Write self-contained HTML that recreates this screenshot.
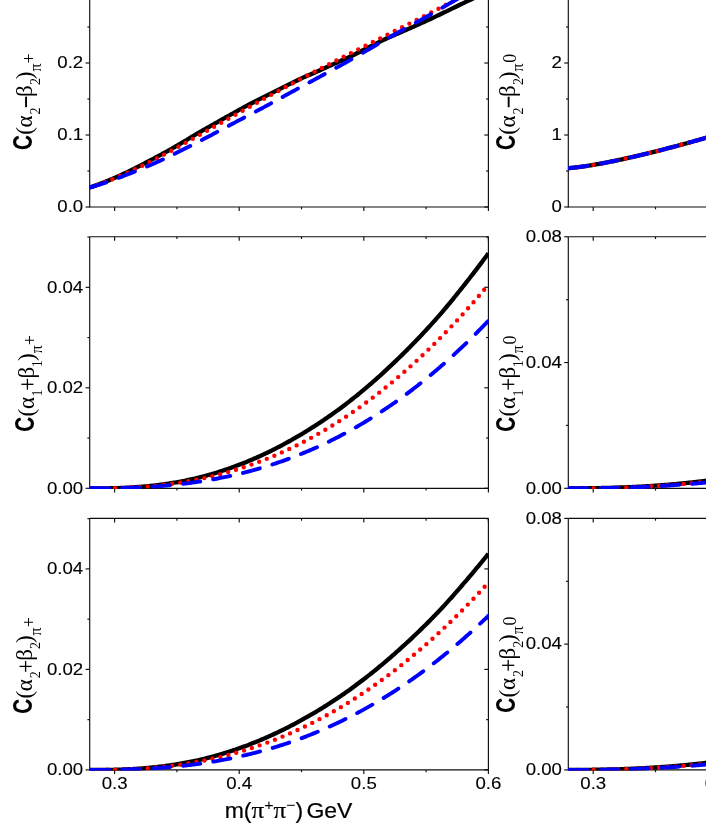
<!DOCTYPE html>
<html><head><meta charset="utf-8"><title>chart</title>
<style>html,body{margin:0;padding:0;background:#fff;}svg{display:block;will-change:transform;}</style></head>
<body><svg width="706" height="824" viewBox="0 0 706 824">
<rect width="706" height="824" fill="#fff"/>
<line x1="89.70" y1="-5.00" x2="89.70" y2="207.50" stroke="#0d0d0d" stroke-width="1.15"/>
<line x1="89.70" y1="207.00" x2="488.40" y2="207.00" stroke="#0d0d0d" stroke-width="1.15"/>
<line x1="488.40" y1="-5.00" x2="488.40" y2="207.50" stroke="#0d0d0d" stroke-width="1.15"/>
<line x1="114.62" y1="207.00" x2="114.62" y2="211.10" stroke="#0d0d0d" stroke-width="1.15"/>
<line x1="176.92" y1="207.00" x2="176.92" y2="209.30" stroke="#0d0d0d" stroke-width="1.15"/>
<line x1="239.21" y1="207.00" x2="239.21" y2="211.10" stroke="#0d0d0d" stroke-width="1.15"/>
<line x1="301.51" y1="207.00" x2="301.51" y2="209.30" stroke="#0d0d0d" stroke-width="1.15"/>
<line x1="363.81" y1="207.00" x2="363.81" y2="211.10" stroke="#0d0d0d" stroke-width="1.15"/>
<line x1="426.10" y1="207.00" x2="426.10" y2="209.30" stroke="#0d0d0d" stroke-width="1.15"/>
<line x1="488.40" y1="207.00" x2="488.40" y2="211.10" stroke="#0d0d0d" stroke-width="1.15"/>
<line x1="85.60" y1="207.00" x2="89.70" y2="207.00" stroke="#0d0d0d" stroke-width="1.15"/>
<line x1="484.30" y1="207.00" x2="488.40" y2="207.00" stroke="#0d0d0d" stroke-width="1.15"/>
<line x1="85.60" y1="135.00" x2="89.70" y2="135.00" stroke="#0d0d0d" stroke-width="1.15"/>
<line x1="484.30" y1="135.00" x2="488.40" y2="135.00" stroke="#0d0d0d" stroke-width="1.15"/>
<line x1="85.60" y1="63.00" x2="89.70" y2="63.00" stroke="#0d0d0d" stroke-width="1.15"/>
<line x1="484.30" y1="63.00" x2="488.40" y2="63.00" stroke="#0d0d0d" stroke-width="1.15"/>
<line x1="85.60" y1="-9.00" x2="89.70" y2="-9.00" stroke="#0d0d0d" stroke-width="1.15"/>
<line x1="484.30" y1="-9.00" x2="488.40" y2="-9.00" stroke="#0d0d0d" stroke-width="1.15"/>
<line x1="87.40" y1="171.00" x2="89.70" y2="171.00" stroke="#0d0d0d" stroke-width="1.15"/>
<line x1="486.10" y1="171.00" x2="488.40" y2="171.00" stroke="#0d0d0d" stroke-width="1.15"/>
<line x1="87.40" y1="99.00" x2="89.70" y2="99.00" stroke="#0d0d0d" stroke-width="1.15"/>
<line x1="486.10" y1="99.00" x2="488.40" y2="99.00" stroke="#0d0d0d" stroke-width="1.15"/>
<line x1="87.40" y1="27.00" x2="89.70" y2="27.00" stroke="#0d0d0d" stroke-width="1.15"/>
<line x1="486.10" y1="27.00" x2="488.40" y2="27.00" stroke="#0d0d0d" stroke-width="1.15"/>
<clipPath id="c1"><rect x="89.4" y="-3" width="399.3" height="210.7"/></clipPath>
<g clip-path="url(#c1)">
<path d="M89.70,187.42 L90.70,187.10 L91.70,186.76 L92.70,186.43 L93.70,186.09 L94.70,185.74 L95.70,185.39 L96.69,185.03 L97.69,184.67 L98.69,184.30 L99.69,183.93 L100.69,183.56 L101.69,183.18 L102.69,182.80 L103.69,182.41 L104.69,182.02 L105.69,181.62 L106.69,181.22 L107.69,180.82 L108.69,180.41 L109.68,180.00 L110.68,179.59 L111.68,179.17 L112.68,178.74 L113.68,178.32 L114.68,177.88 L115.68,177.44 L116.68,177.00 L117.68,176.55 L118.68,176.10 L119.68,175.64 L120.68,175.18 L121.68,174.72 L122.68,174.25 L123.67,173.78 L124.67,173.30 L125.67,172.82 L126.67,172.34 L127.67,171.85 L128.67,171.37 L129.67,170.88 L130.67,170.39 L131.67,169.89 L132.67,169.40 L133.67,168.90 L134.67,168.40 L135.67,167.90 L136.66,167.40 L137.66,166.89 L138.66,166.38 L139.66,165.87 L140.66,165.36 L141.66,164.84 L142.66,164.33 L143.66,163.81 L144.66,163.29 L145.66,162.76 L146.66,162.24 L147.66,161.72 L148.66,161.19 L149.65,160.67 L150.65,160.14 L151.65,159.62 L152.65,159.09 L153.65,158.56 L154.65,158.03 L155.65,157.50 L156.65,156.97 L157.65,156.44 L158.65,155.91 L159.65,155.37 L160.65,154.83 L161.65,154.29 L162.65,153.75 L163.64,153.21 L164.64,152.67 L165.64,152.12 L166.64,151.57 L167.64,151.02 L168.64,150.46 L169.64,149.90 L170.64,149.34 L171.64,148.77 L172.64,148.21 L173.64,147.63 L174.64,147.06 L175.64,146.48 L176.63,145.90 L177.63,145.31 L178.63,144.73 L179.63,144.14 L180.63,143.55 L181.63,142.96 L182.63,142.37 L183.63,141.78 L184.63,141.19 L185.63,140.59 L186.63,140.00 L187.63,139.39 L188.63,138.78 L189.62,138.17 L190.62,137.56 L191.62,136.95 L192.62,136.33 L193.62,135.72 L194.62,135.12 L195.62,134.51 L196.62,133.92 L197.62,133.33 L198.62,132.74 L199.62,132.17 L200.62,131.61 L201.62,131.04 L202.62,130.48 L203.61,129.91 L204.61,129.35 L205.61,128.78 L206.61,128.22 L207.61,127.65 L208.61,127.09 L209.61,126.52 L210.61,125.96 L211.61,125.39 L212.61,124.83 L213.61,124.27 L214.61,123.70 L215.61,123.14 L216.60,122.57 L217.60,122.01 L218.60,121.44 L219.60,120.88 L220.60,120.31 L221.60,119.75 L222.60,119.18 L223.60,118.62 L224.60,118.06 L225.60,117.49 L226.60,116.93 L227.60,116.37 L228.60,115.81 L229.59,115.25 L230.59,114.69 L231.59,114.13 L232.59,113.57 L233.59,113.01 L234.59,112.45 L235.59,111.90 L236.59,111.34 L237.59,110.78 L238.59,110.23 L239.59,109.67 L240.59,109.12 L241.59,108.57 L242.58,108.01 L243.58,107.46 L244.58,106.91 L245.58,106.36 L246.58,105.82 L247.58,105.29 L248.58,104.77 L249.58,104.25 L250.58,103.74 L251.58,103.24 L252.58,102.73 L253.58,102.23 L254.58,101.72 L255.58,101.22 L256.57,100.71 L257.57,100.20 L258.57,99.69 L259.57,99.17 L260.57,98.66 L261.57,98.15 L262.57,97.64 L263.57,97.13 L264.57,96.62 L265.57,96.11 L266.57,95.60 L267.57,95.10 L268.57,94.59 L269.56,94.08 L270.56,93.58 L271.56,93.07 L272.56,92.57 L273.56,92.06 L274.56,91.56 L275.56,91.06 L276.56,90.56 L277.56,90.06 L278.56,89.56 L279.56,89.06 L280.56,88.56 L281.56,88.07 L282.55,87.57 L283.55,87.08 L284.55,86.59 L285.55,86.10 L286.55,85.60 L287.55,85.11 L288.55,84.62 L289.55,84.13 L290.55,83.64 L291.55,83.15 L292.55,82.66 L293.55,82.17 L294.55,81.68 L295.55,81.20 L296.54,80.71 L297.54,80.23 L298.54,79.76 L299.54,79.28 L300.54,78.81 L301.54,78.34 L302.54,77.87 L303.54,77.41 L304.54,76.95 L305.54,76.49 L306.54,76.06 L307.54,75.63 L308.54,75.21 L309.53,74.80 L310.53,74.39 L311.53,73.98 L312.53,73.57 L313.53,73.15 L314.53,72.72 L315.53,72.28 L316.53,71.83 L317.53,71.39 L318.53,70.94 L319.53,70.49 L320.53,70.04 L321.53,69.58 L322.52,69.13 L323.52,68.67 L324.52,68.21 L325.52,67.76 L326.52,67.30 L327.52,66.84 L328.52,66.38 L329.52,65.92 L330.52,65.46 L331.52,65.00 L332.52,64.55 L333.52,64.09 L334.52,63.63 L335.52,63.18 L336.51,62.73 L337.51,62.28 L338.51,61.83 L339.51,61.39 L340.51,60.95 L341.51,60.51 L342.51,60.07 L343.51,59.63 L344.51,59.18 L345.51,58.74 L346.51,58.29 L347.51,57.84 L348.51,57.38 L349.50,56.92 L350.50,56.45 L351.50,55.97 L352.50,55.49 L353.50,55.00 L354.50,54.50 L355.50,53.99 L356.50,53.49 L357.50,52.98 L358.50,52.48 L359.50,51.97 L360.50,51.47 L361.50,50.97 L362.49,50.46 L363.49,49.96 L364.49,49.45 L365.49,48.95 L366.49,48.44 L367.49,47.94 L368.49,47.44 L369.49,46.93 L370.49,46.43 L371.49,45.93 L372.49,45.42 L373.49,44.92 L374.49,44.42 L375.48,43.91 L376.48,43.41 L377.48,42.91 L378.48,42.40 L379.48,41.90 L380.48,41.40 L381.48,40.90 L382.48,40.40 L383.48,39.92 L384.48,39.44 L385.48,38.97 L386.48,38.51 L387.48,38.05 L388.48,37.60 L389.47,37.15 L390.47,36.71 L391.47,36.27 L392.47,35.84 L393.47,35.41 L394.47,34.98 L395.47,34.55 L396.47,34.12 L397.47,33.70 L398.47,33.27 L399.47,32.84 L400.47,32.41 L401.47,31.98 L402.46,31.54 L403.46,31.11 L404.46,30.66 L405.46,30.22 L406.46,29.77 L407.46,29.33 L408.46,28.88 L409.46,28.44 L410.46,27.99 L411.46,27.55 L412.46,27.10 L413.46,26.66 L414.46,26.21 L415.45,25.77 L416.45,25.32 L417.45,24.88 L418.45,24.43 L419.45,23.99 L420.45,23.54 L421.45,23.09 L422.45,22.64 L423.45,22.19 L424.45,21.73 L425.45,21.28 L426.45,20.82 L427.45,20.37 L428.45,19.91 L429.44,19.45 L430.44,18.98 L431.44,18.52 L432.44,18.05 L433.44,17.58 L434.44,17.11 L435.44,16.64 L436.44,16.16 L437.44,15.68 L438.44,15.21 L439.44,14.73 L440.44,14.24 L441.44,13.76 L442.43,13.28 L443.43,12.79 L444.43,12.31 L445.43,11.82 L446.43,11.34 L447.43,10.85 L448.43,10.36 L449.43,9.87 L450.43,9.39 L451.43,8.90 L452.43,8.41 L453.43,7.92 L454.43,7.44 L455.42,6.95 L456.42,6.46 L457.42,5.98 L458.42,5.49 L459.42,5.01 L460.42,4.53 L461.42,4.05 L462.42,3.56 L463.42,3.08 L464.42,2.60 L465.42,2.12 L466.42,1.64 L467.42,1.16 L468.42,0.68 L469.41,0.20 L470.41,-0.28 L471.41,-0.76 L472.41,-1.24 L473.41,-1.72 L474.41,-2.20 L475.41,-2.68 L476.41,-3.16 L477.41,-3.64 L478.41,-4.11 L479.41,-4.59 L480.41,-5.07 L481.41,-5.55 L482.40,-6.03 L483.40,-6.51 L484.40,-6.99 L485.40,-7.47 L486.40,-7.95 L487.40,-8.43 L488.40,-8.91" fill="none" stroke="#000" stroke-width="4.3" stroke-linecap="butt"/>
<path d="M89.70,187.42 L90.70,187.10 L91.70,186.78 L92.70,186.45 L93.70,186.11 L94.70,185.78 L95.70,185.44 L96.69,185.09 L97.69,184.74 L98.69,184.39 L99.69,184.03 L100.69,183.67 L101.69,183.31 L102.69,182.94 L103.69,182.57 L104.69,182.19 L105.69,181.81 L106.69,181.43 L107.69,181.04 L108.69,180.65 L109.68,180.26 L110.68,179.86 L111.68,179.46 L112.68,179.06 L113.68,178.65 L114.68,178.24 L115.68,177.83 L116.68,177.41 L117.68,176.99 L118.68,176.57 L119.68,176.14 L120.68,175.71 L121.68,175.28 L122.68,174.84 L123.67,174.40 L124.67,173.96 L125.67,173.52 L126.67,173.07 L127.67,172.62 L128.67,172.17 L129.67,171.71 L130.67,171.25 L131.67,170.79 L132.67,170.33 L133.67,169.86 L134.67,169.39 L135.67,168.92 L136.66,168.44 L137.66,167.97 L138.66,167.49 L139.66,167.01 L140.66,166.52 L141.66,166.04 L142.66,165.55 L143.66,165.06 L144.66,164.56 L145.66,164.07 L146.66,163.57 L147.66,163.07 L148.66,162.57 L149.65,162.06 L150.65,161.56 L151.65,161.05 L152.65,160.54 L153.65,160.03 L154.65,159.51 L155.65,158.99 L156.65,158.48 L157.65,157.96 L158.65,157.44 L159.65,156.91 L160.65,156.39 L161.65,155.86 L162.65,155.33 L163.64,154.80 L164.64,154.27 L165.64,153.74 L166.64,153.21 L167.64,152.67 L168.64,152.13 L169.64,151.59 L170.64,151.05 L171.64,150.51 L172.64,149.97 L173.64,149.43 L174.64,148.88 L175.64,148.34 L176.63,147.79 L177.63,147.24 L178.63,146.69 L179.63,146.14 L180.63,145.59 L181.63,145.04 L182.63,144.48 L183.63,143.93 L184.63,143.37 L185.63,142.82 L186.63,142.26 L187.63,141.70 L188.63,141.15 L189.62,140.59 L190.62,140.03 L191.62,139.47 L192.62,138.91 L193.62,138.35 L194.62,137.79 L195.62,137.22 L196.62,136.66 L197.62,136.10 L198.62,135.53 L199.62,134.97 L200.62,134.41 L201.62,133.84 L202.62,133.28 L203.61,132.71 L204.61,132.15 L205.61,131.58 L206.61,131.02 L207.61,130.45 L208.61,129.89 L209.61,129.32 L210.61,128.76 L211.61,128.19 L212.61,127.63 L213.61,127.07 L214.61,126.50 L215.61,125.94 L216.60,125.37 L217.60,124.81 L218.60,124.24 L219.60,123.68 L220.60,123.11 L221.60,122.55 L222.60,121.98 L223.60,121.42 L224.60,120.85 L225.60,120.29 L226.60,119.73 L227.60,119.16 L228.60,118.60 L229.59,118.04 L230.59,117.47 L231.59,116.91 L232.59,116.35 L233.59,115.79 L234.59,115.22 L235.59,114.66 L236.59,114.10 L237.59,113.54 L238.59,112.98 L239.59,112.41 L240.59,111.85 L241.59,111.29 L242.58,110.73 L243.58,110.17 L244.58,109.61 L245.58,109.05 L246.58,108.50 L247.58,107.94 L248.58,107.38 L249.58,106.82 L250.58,106.26 L251.58,105.71 L252.58,105.15 L253.58,104.59 L254.58,104.04 L255.58,103.48 L256.57,102.93 L257.57,102.37 L258.57,101.82 L259.57,101.27 L260.57,100.71 L261.57,100.16 L262.57,99.61 L263.57,99.06 L264.57,98.51 L265.57,97.96 L266.57,97.41 L267.57,96.86 L268.57,96.31 L269.56,95.76 L270.56,95.21 L271.56,94.66 L272.56,94.12 L273.56,93.57 L274.56,93.03 L275.56,92.48 L276.56,91.94 L277.56,91.39 L278.56,90.85 L279.56,90.31 L280.56,89.77 L281.56,89.23 L282.55,88.69 L283.55,88.15 L284.55,87.61 L285.55,87.07 L286.55,86.53 L287.55,86.00 L288.55,85.46 L289.55,84.93 L290.55,84.39 L291.55,83.86 L292.55,83.32 L293.55,82.79 L294.55,82.26 L295.55,81.73 L296.54,81.20 L297.54,80.67 L298.54,80.14 L299.54,79.61 L300.54,79.08 L301.54,78.56 L302.54,78.03 L303.54,77.50 L304.54,76.98 L305.54,76.45 L306.54,75.93 L307.54,75.41 L308.54,74.88 L309.53,74.36 L310.53,73.84 L311.53,73.32 L312.53,72.80 L313.53,72.28 L314.53,71.76 L315.53,71.24 L316.53,70.72 L317.53,70.20 L318.53,69.68 L319.53,69.17 L320.53,68.65 L321.53,68.13 L322.52,67.62 L323.52,67.10 L324.52,66.59 L325.52,66.07 L326.52,65.56 L327.52,65.04 L328.52,64.53 L329.52,64.02 L330.52,63.51 L331.52,62.99 L332.52,62.48 L333.52,61.97 L334.52,61.46 L335.52,60.95 L336.51,60.44 L337.51,59.93 L338.51,59.42 L339.51,58.91 L340.51,58.40 L341.51,57.89 L342.51,57.38 L343.51,56.87 L344.51,56.37 L345.51,55.86 L346.51,55.35 L347.51,54.84 L348.51,54.34 L349.50,53.83 L350.50,53.32 L351.50,52.82 L352.50,52.31 L353.50,51.81 L354.50,51.30 L355.50,50.79 L356.50,50.29 L357.50,49.78 L358.50,49.28 L359.50,48.77 L360.50,48.27 L361.50,47.77 L362.49,47.26 L363.49,46.76 L364.49,46.25 L365.49,45.75 L366.49,45.24 L367.49,44.74 L368.49,44.24 L369.49,43.73 L370.49,43.23 L371.49,42.73 L372.49,42.22 L373.49,41.72 L374.49,41.22 L375.48,40.71 L376.48,40.21 L377.48,39.71 L378.48,39.20 L379.48,38.70 L380.48,38.20 L381.48,37.69 L382.48,37.19 L383.48,36.69 L384.48,36.18 L385.48,35.68 L386.48,35.18 L387.48,34.67 L388.48,34.17 L389.47,33.67 L390.47,33.16 L391.47,32.66 L392.47,32.15 L393.47,31.65 L394.47,31.15 L395.47,30.64 L396.47,30.14 L397.47,29.63 L398.47,29.13 L399.47,28.62 L400.47,28.12 L401.47,27.61 L402.46,27.11 L403.46,26.60 L404.46,26.10 L405.46,25.59 L406.46,25.08 L407.46,24.58 L408.46,24.07 L409.46,23.56 L410.46,23.06 L411.46,22.55 L412.46,22.04 L413.46,21.53 L414.46,21.03 L415.45,20.52 L416.45,20.01 L417.45,19.50 L418.45,18.99 L419.45,18.48 L420.45,17.97 L421.45,17.46 L422.45,16.95 L423.45,16.44 L424.45,15.93 L425.45,15.41 L426.45,14.90 L427.45,14.39 L428.45,13.88 L429.44,13.36 L430.44,12.85 L431.44,12.34 L432.44,11.82 L433.44,11.31 L434.44,10.79 L435.44,10.27 L436.44,9.76 L437.44,9.24 L438.44,8.72 L439.44,8.21 L440.44,7.69 L441.44,7.17 L442.43,6.65 L443.43,6.13 L444.43,5.61 L445.43,5.09 L446.43,4.57 L447.43,4.05 L448.43,3.52 L449.43,3.00 L450.43,2.48 L451.43,1.95 L452.43,1.43 L453.43,0.90 L454.43,0.38 L455.42,-0.15 L456.42,-0.68 L457.42,-1.20 L458.42,-1.73 L459.42,-2.26 L460.42,-2.79 L461.42,-3.32 L462.42,-3.85 L463.42,-4.38 L464.42,-4.92 L465.42,-5.45 L466.42,-5.98 L467.42,-6.52 L468.42,-7.05 L469.41,-7.59 L470.41,-8.12 L471.41,-8.66 L472.41,-9.20 L473.41,-9.74 L474.41,-10.28 L475.41,-10.82 L476.41,-11.36 L477.41,-11.90 L478.41,-12.44 L479.41,-12.99 L480.41,-13.53 L481.41,-14.08 L482.40,-14.62 L483.40,-15.17 L484.40,-15.72 L485.40,-16.26 L486.40,-16.81 L487.40,-17.36 L488.40,-17.91" fill="none" stroke="#ff0000" stroke-width="4.4" stroke-linecap="round" stroke-dasharray="0 8.18" stroke-dashoffset="0.4"/>
<path d="M89.70,187.40 L90.70,187.14 L91.70,186.87 L92.70,186.60 L93.70,186.32 L94.70,186.04 L95.70,185.76 L96.69,185.47 L97.69,185.17 L98.69,184.86 L99.69,184.55 L100.69,184.23 L101.69,183.91 L102.69,183.58 L103.69,183.25 L104.69,182.92 L105.69,182.57 L106.69,182.23 L107.69,181.88 L108.69,181.53 L109.68,181.17 L110.68,180.81 L111.68,180.45 L112.68,180.08 L113.68,179.72 L114.68,179.34 L115.68,178.97 L116.68,178.60 L117.68,178.22 L118.68,177.84 L119.68,177.46 L120.68,177.08 L121.68,176.70 L122.68,176.31 L123.67,175.93 L124.67,175.54 L125.67,175.16 L126.67,174.77 L127.67,174.39 L128.67,174.00 L129.67,173.61 L130.67,173.21 L131.67,172.82 L132.67,172.42 L133.67,172.03 L134.67,171.63 L135.67,171.22 L136.66,170.82 L137.66,170.41 L138.66,170.01 L139.66,169.59 L140.66,169.18 L141.66,168.77 L142.66,168.35 L143.66,167.93 L144.66,167.51 L145.66,167.09 L146.66,166.66 L147.66,166.24 L148.66,165.81 L149.65,165.38 L150.65,164.94 L151.65,164.51 L152.65,164.07 L153.65,163.63 L154.65,163.19 L155.65,162.74 L156.65,162.29 L157.65,161.84 L158.65,161.39 L159.65,160.93 L160.65,160.47 L161.65,160.01 L162.65,159.54 L163.64,159.07 L164.64,158.60 L165.64,158.13 L166.64,157.65 L167.64,157.17 L168.64,156.69 L169.64,156.21 L170.64,155.73 L171.64,155.24 L172.64,154.76 L173.64,154.27 L174.64,153.78 L175.64,153.29 L176.63,152.80 L177.63,152.31 L178.63,151.81 L179.63,151.32 L180.63,150.83 L181.63,150.33 L182.63,149.84 L183.63,149.34 L184.63,148.84 L185.63,148.34 L186.63,147.84 L187.63,147.33 L188.63,146.83 L189.62,146.32 L190.62,145.81 L191.62,145.30 L192.62,144.79 L193.62,144.27 L194.62,143.76 L195.62,143.24 L196.62,142.73 L197.62,142.21 L198.62,141.69 L199.62,141.17 L200.62,140.65 L201.62,140.13 L202.62,139.61 L203.61,139.08 L204.61,138.56 L205.61,138.04 L206.61,137.52 L207.61,136.99 L208.61,136.47 L209.61,135.95 L210.61,135.42 L211.61,134.90 L212.61,134.37 L213.61,133.85 L214.61,133.32 L215.61,132.79 L216.60,132.26 L217.60,131.72 L218.60,131.19 L219.60,130.66 L220.60,130.13 L221.60,129.59 L222.60,129.06 L223.60,128.52 L224.60,127.99 L225.60,127.45 L226.60,126.92 L227.60,126.38 L228.60,125.85 L229.59,125.31 L230.59,124.78 L231.59,124.25 L232.59,123.72 L233.59,123.18 L234.59,122.65 L235.59,122.12 L236.59,121.59 L237.59,121.07 L238.59,120.54 L239.59,120.01 L240.59,119.49 L241.59,118.97 L242.58,118.44 L243.58,117.92 L244.58,117.40 L245.58,116.88 L246.58,116.35 L247.58,115.83 L248.58,115.31 L249.58,114.79 L250.58,114.26 L251.58,113.74 L252.58,113.22 L253.58,112.69 L254.58,112.17 L255.58,111.64 L256.57,111.12 L257.57,110.59 L258.57,110.06 L259.57,109.53 L260.57,109.00 L261.57,108.47 L262.57,107.93 L263.57,107.39 L264.57,106.86 L265.57,106.31 L266.57,105.77 L267.57,105.23 L268.57,104.68 L269.56,104.14 L270.56,103.59 L271.56,103.04 L272.56,102.49 L273.56,101.94 L274.56,101.39 L275.56,100.84 L276.56,100.29 L277.56,99.74 L278.56,99.19 L279.56,98.63 L280.56,98.08 L281.56,97.53 L282.55,96.98 L283.55,96.43 L284.55,95.88 L285.55,95.33 L286.55,94.78 L287.55,94.23 L288.55,93.68 L289.55,93.14 L290.55,92.59 L291.55,92.05 L292.55,91.50 L293.55,90.96 L294.55,90.42 L295.55,89.88 L296.54,89.33 L297.54,88.79 L298.54,88.25 L299.54,87.71 L300.54,87.17 L301.54,86.63 L302.54,86.09 L303.54,85.55 L304.54,85.01 L305.54,84.47 L306.54,83.93 L307.54,83.39 L308.54,82.85 L309.53,82.31 L310.53,81.77 L311.53,81.22 L312.53,80.68 L313.53,80.14 L314.53,79.60 L315.53,79.06 L316.53,78.51 L317.53,77.97 L318.53,77.43 L319.53,76.89 L320.53,76.34 L321.53,75.80 L322.52,75.26 L323.52,74.72 L324.52,74.18 L325.52,73.64 L326.52,73.10 L327.52,72.56 L328.52,72.02 L329.52,71.47 L330.52,70.93 L331.52,70.39 L332.52,69.85 L333.52,69.30 L334.52,68.76 L335.52,68.21 L336.51,67.66 L337.51,67.11 L338.51,66.56 L339.51,66.01 L340.51,65.46 L341.51,64.91 L342.51,64.35 L343.51,63.79 L344.51,63.24 L345.51,62.68 L346.51,62.11 L347.51,61.55 L348.51,60.99 L349.50,60.42 L350.50,59.85 L351.50,59.28 L352.50,58.71 L353.50,58.14 L354.50,57.57 L355.50,57.00 L356.50,56.43 L357.50,55.85 L358.50,55.28 L359.50,54.70 L360.50,54.13 L361.50,53.55 L362.49,52.98 L363.49,52.40 L364.49,51.83 L365.49,51.25 L366.49,50.68 L367.49,50.10 L368.49,49.53 L369.49,48.95 L370.49,48.38 L371.49,47.80 L372.49,47.23 L373.49,46.65 L374.49,46.07 L375.48,45.49 L376.48,44.91 L377.48,44.33 L378.48,43.75 L379.48,43.17 L380.48,42.59 L381.48,42.00 L382.48,41.42 L383.48,40.84 L384.48,40.26 L385.48,39.68 L386.48,39.10 L387.48,38.52 L388.48,37.94 L389.47,37.37 L390.47,36.79 L391.47,36.22 L392.47,35.65 L393.47,35.08 L394.47,34.51 L395.47,33.94 L396.47,33.37 L397.47,32.81 L398.47,32.25 L399.47,31.69 L400.47,31.14 L401.47,30.58 L402.46,30.03 L403.46,29.48 L404.46,28.93 L405.46,28.38 L406.46,27.84 L407.46,27.29 L408.46,26.75 L409.46,26.20 L410.46,25.66 L411.46,25.11 L412.46,24.57 L413.46,24.02 L414.46,23.47 L415.45,22.93 L416.45,22.38 L417.45,21.83 L418.45,21.28 L419.45,20.73 L420.45,20.17 L421.45,19.62 L422.45,19.06 L423.45,18.50 L424.45,17.93 L425.45,17.37 L426.45,16.80 L427.45,16.23 L428.45,15.66 L429.44,15.09 L430.44,14.52 L431.44,13.95 L432.44,13.37 L433.44,12.80 L434.44,12.22 L435.44,11.64 L436.44,11.07 L437.44,10.49 L438.44,9.91 L439.44,9.33 L440.44,8.75 L441.44,8.17 L442.43,7.59 L443.43,7.02 L444.43,6.44 L445.43,5.86 L446.43,5.28 L447.43,4.70 L448.43,4.13 L449.43,3.55 L450.43,2.98 L451.43,2.40 L452.43,1.83 L453.43,1.25 L454.43,0.68 L455.42,0.10 L456.42,-0.47 L457.42,-1.05 L458.42,-1.63 L459.42,-2.20 L460.42,-2.78 L461.42,-3.35 L462.42,-3.93 L463.42,-4.50 L464.42,-5.08 L465.42,-5.65 L466.42,-6.23 L467.42,-6.81 L468.42,-7.38 L469.41,-7.96 L470.41,-8.53 L471.41,-9.11 L472.41,-9.68 L473.41,-10.26 L474.41,-10.84 L475.41,-11.41 L476.41,-11.99 L477.41,-12.56 L478.41,-13.14 L479.41,-13.72 L480.41,-14.29 L481.41,-14.87 L482.40,-15.44 L483.40,-16.02 L484.40,-16.60 L485.40,-17.17 L486.40,-17.75 L487.40,-18.32 L488.40,-18.90" fill="none" stroke="#0000ff" stroke-width="3.9" stroke-linecap="round" stroke-dasharray="17.4 13.1" stroke-dashoffset="0"/>
<path d="M88.73,187.66 L89.70,187.40 L90.70,187.14 L91.70,186.87 L92.70,186.60 L93.70,186.32" fill="none" stroke="#0000ff" stroke-width="3.9" stroke-linecap="butt"/>
</g>
<line x1="568.30" y1="-5.00" x2="568.30" y2="207.50" stroke="#0d0d0d" stroke-width="1.15"/>
<line x1="568.30" y1="207.00" x2="720.00" y2="207.00" stroke="#0d0d0d" stroke-width="1.15"/>
<line x1="593.22" y1="207.00" x2="593.22" y2="211.10" stroke="#0d0d0d" stroke-width="1.15"/>
<line x1="655.52" y1="207.00" x2="655.52" y2="209.30" stroke="#0d0d0d" stroke-width="1.15"/>
<line x1="717.81" y1="207.00" x2="717.81" y2="211.10" stroke="#0d0d0d" stroke-width="1.15"/>
<line x1="564.20" y1="207.00" x2="568.30" y2="207.00" stroke="#0d0d0d" stroke-width="1.15"/>
<line x1="564.20" y1="135.00" x2="568.30" y2="135.00" stroke="#0d0d0d" stroke-width="1.15"/>
<line x1="564.20" y1="63.00" x2="568.30" y2="63.00" stroke="#0d0d0d" stroke-width="1.15"/>
<line x1="564.20" y1="-9.00" x2="568.30" y2="-9.00" stroke="#0d0d0d" stroke-width="1.15"/>
<line x1="566.00" y1="171.00" x2="568.30" y2="171.00" stroke="#0d0d0d" stroke-width="1.15"/>
<line x1="566.00" y1="99.00" x2="568.30" y2="99.00" stroke="#0d0d0d" stroke-width="1.15"/>
<line x1="566.00" y1="27.00" x2="568.30" y2="27.00" stroke="#0d0d0d" stroke-width="1.15"/>
<line x1="89.70" y1="236.70" x2="89.70" y2="488.80" stroke="#0d0d0d" stroke-width="1.15"/>
<line x1="89.70" y1="488.30" x2="488.40" y2="488.30" stroke="#0d0d0d" stroke-width="1.15"/>
<line x1="89.70" y1="236.70" x2="488.40" y2="236.70" stroke="#0d0d0d" stroke-width="1.15"/>
<line x1="488.40" y1="236.70" x2="488.40" y2="488.80" stroke="#0d0d0d" stroke-width="1.15"/>
<line x1="114.62" y1="488.30" x2="114.62" y2="492.40" stroke="#0d0d0d" stroke-width="1.15"/>
<line x1="114.62" y1="236.70" x2="114.62" y2="240.80" stroke="#0d0d0d" stroke-width="1.15"/>
<line x1="176.92" y1="488.30" x2="176.92" y2="490.60" stroke="#0d0d0d" stroke-width="1.15"/>
<line x1="176.92" y1="236.70" x2="176.92" y2="239.00" stroke="#0d0d0d" stroke-width="1.15"/>
<line x1="239.21" y1="488.30" x2="239.21" y2="492.40" stroke="#0d0d0d" stroke-width="1.15"/>
<line x1="239.21" y1="236.70" x2="239.21" y2="240.80" stroke="#0d0d0d" stroke-width="1.15"/>
<line x1="301.51" y1="488.30" x2="301.51" y2="490.60" stroke="#0d0d0d" stroke-width="1.15"/>
<line x1="301.51" y1="236.70" x2="301.51" y2="239.00" stroke="#0d0d0d" stroke-width="1.15"/>
<line x1="363.81" y1="488.30" x2="363.81" y2="492.40" stroke="#0d0d0d" stroke-width="1.15"/>
<line x1="363.81" y1="236.70" x2="363.81" y2="240.80" stroke="#0d0d0d" stroke-width="1.15"/>
<line x1="426.10" y1="488.30" x2="426.10" y2="490.60" stroke="#0d0d0d" stroke-width="1.15"/>
<line x1="426.10" y1="236.70" x2="426.10" y2="239.00" stroke="#0d0d0d" stroke-width="1.15"/>
<line x1="488.40" y1="488.30" x2="488.40" y2="492.40" stroke="#0d0d0d" stroke-width="1.15"/>
<line x1="488.40" y1="236.70" x2="488.40" y2="240.80" stroke="#0d0d0d" stroke-width="1.15"/>
<line x1="85.60" y1="488.30" x2="89.70" y2="488.30" stroke="#0d0d0d" stroke-width="1.15"/>
<line x1="484.30" y1="488.30" x2="488.40" y2="488.30" stroke="#0d0d0d" stroke-width="1.15"/>
<line x1="85.60" y1="387.80" x2="89.70" y2="387.80" stroke="#0d0d0d" stroke-width="1.15"/>
<line x1="484.30" y1="387.80" x2="488.40" y2="387.80" stroke="#0d0d0d" stroke-width="1.15"/>
<line x1="85.60" y1="287.30" x2="89.70" y2="287.30" stroke="#0d0d0d" stroke-width="1.15"/>
<line x1="484.30" y1="287.30" x2="488.40" y2="287.30" stroke="#0d0d0d" stroke-width="1.15"/>
<line x1="87.40" y1="438.05" x2="89.70" y2="438.05" stroke="#0d0d0d" stroke-width="1.15"/>
<line x1="486.10" y1="438.05" x2="488.40" y2="438.05" stroke="#0d0d0d" stroke-width="1.15"/>
<line x1="87.40" y1="337.55" x2="89.70" y2="337.55" stroke="#0d0d0d" stroke-width="1.15"/>
<line x1="486.10" y1="337.55" x2="488.40" y2="337.55" stroke="#0d0d0d" stroke-width="1.15"/>
<line x1="87.40" y1="237.05" x2="89.70" y2="237.05" stroke="#0d0d0d" stroke-width="1.15"/>
<line x1="486.10" y1="237.05" x2="488.40" y2="237.05" stroke="#0d0d0d" stroke-width="1.15"/>
<clipPath id="c2"><rect x="89.4" y="233.7" width="399.3" height="255.3"/></clipPath>
<g clip-path="url(#c2)">
<path d="M89.70,488.30 L89.82,488.30 L91.16,488.31 L92.49,488.33 L93.82,488.34 L95.16,488.35 L96.49,488.35 L97.82,488.36 L99.16,488.36 L100.49,488.36 L101.82,488.35 L103.15,488.35 L104.49,488.34 L105.82,488.33 L107.15,488.31 L108.49,488.29 L109.82,488.27 L111.15,488.25 L112.49,488.22 L113.82,488.19 L115.15,488.15 L116.49,488.12 L117.82,488.08 L119.15,488.03 L120.48,487.98 L121.82,487.93 L123.15,487.87 L124.48,487.82 L125.82,487.75 L127.15,487.69 L128.48,487.61 L129.82,487.54 L131.15,487.46 L132.48,487.38 L133.81,487.29 L135.15,487.20 L136.48,487.11 L137.81,487.01 L139.15,486.91 L140.48,486.81 L141.81,486.70 L143.15,486.59 L144.48,486.47 L145.81,486.35 L147.14,486.22 L148.48,486.09 L149.81,485.96 L151.14,485.82 L152.48,485.67 L153.81,485.53 L155.14,485.37 L156.48,485.21 L157.81,485.05 L159.14,484.89 L160.48,484.71 L161.81,484.54 L163.14,484.36 L164.47,484.17 L165.81,483.98 L167.14,483.78 L168.47,483.58 L169.81,483.37 L171.14,483.16 L172.47,482.95 L173.81,482.72 L175.14,482.50 L176.47,482.26 L177.80,482.02 L179.14,481.78 L180.47,481.53 L181.80,481.28 L183.14,481.02 L184.47,480.76 L185.80,480.49 L187.14,480.22 L188.47,479.94 L189.80,479.66 L191.13,479.37 L192.47,479.08 L193.80,478.78 L195.13,478.47 L196.47,478.16 L197.80,477.84 L199.13,477.52 L200.47,477.19 L201.80,476.85 L203.13,476.50 L204.47,476.15 L205.80,475.79 L207.13,475.42 L208.46,475.04 L209.80,474.66 L211.13,474.28 L212.46,473.89 L213.80,473.49 L215.13,473.09 L216.46,472.68 L217.80,472.26 L219.13,471.84 L220.46,471.42 L221.79,470.99 L223.13,470.55 L224.46,470.11 L225.79,469.66 L227.13,469.20 L228.46,468.74 L229.79,468.27 L231.13,467.80 L232.46,467.32 L233.79,466.84 L235.12,466.35 L236.46,465.85 L237.79,465.35 L239.12,464.84 L240.46,464.33 L241.79,463.80 L243.12,463.28 L244.46,462.75 L245.79,462.21 L247.12,461.66 L248.45,461.11 L249.79,460.55 L251.12,459.99 L252.45,459.42 L253.79,458.84 L255.12,458.26 L256.45,457.68 L257.79,457.08 L259.12,456.48 L260.45,455.88 L261.79,455.26 L263.12,454.65 L264.45,454.02 L265.78,453.39 L267.12,452.76 L268.45,452.12 L269.78,451.47 L271.12,450.81 L272.45,450.15 L273.78,449.49 L275.12,448.81 L276.45,448.13 L277.78,447.45 L279.11,446.76 L280.45,446.06 L281.78,445.35 L283.11,444.64 L284.45,443.93 L285.78,443.20 L287.11,442.47 L288.45,441.74 L289.78,441.00 L291.11,440.25 L292.44,439.49 L293.78,438.73 L295.11,437.97 L296.44,437.19 L297.78,436.41 L299.11,435.63 L300.44,434.83 L301.78,434.04 L303.11,433.23 L304.44,432.42 L305.78,431.61 L307.11,430.78 L308.44,429.96 L309.77,429.12 L311.11,428.28 L312.44,427.44 L313.77,426.59 L315.11,425.73 L316.44,424.87 L317.77,424.00 L319.11,423.12 L320.44,422.24 L321.77,421.35 L323.10,420.45 L324.44,419.55 L325.77,418.64 L327.10,417.73 L328.44,416.81 L329.77,415.88 L331.10,414.94 L332.44,414.00 L333.77,413.05 L335.10,412.09 L336.43,411.13 L337.77,410.16 L339.10,409.18 L340.43,408.20 L341.77,407.21 L343.10,406.21 L344.43,405.20 L345.77,404.19 L347.10,403.16 L348.43,402.14 L349.77,401.10 L351.10,400.05 L352.43,399.00 L353.76,397.94 L355.10,396.88 L356.43,395.81 L357.76,394.73 L359.10,393.64 L360.43,392.54 L361.76,391.44 L363.10,390.33 L364.43,389.22 L365.76,388.09 L367.09,386.96 L368.43,385.83 L369.76,384.68 L371.09,383.53 L372.43,382.37 L373.76,381.21 L375.09,380.04 L376.43,378.86 L377.76,377.67 L379.09,376.48 L380.42,375.28 L381.76,374.07 L383.09,372.86 L384.42,371.64 L385.76,370.41 L387.09,369.18 L388.42,367.94 L389.76,366.69 L391.09,365.43 L392.42,364.17 L393.76,362.90 L395.09,361.63 L396.42,360.35 L397.75,359.06 L399.09,357.76 L400.42,356.46 L401.75,355.15 L403.09,353.84 L404.42,352.52 L405.75,351.19 L407.09,349.86 L408.42,348.51 L409.75,347.17 L411.08,345.81 L412.42,344.45 L413.75,343.08 L415.08,341.71 L416.42,340.33 L417.75,338.94 L419.08,337.54 L420.42,336.14 L421.75,334.72 L423.08,333.30 L424.41,331.88 L425.75,330.44 L427.08,329.00 L428.41,327.55 L429.75,326.10 L431.08,324.63 L432.41,323.16 L433.75,321.67 L435.08,320.19 L436.41,318.68 L437.74,317.17 L439.08,315.64 L440.41,314.10 L441.74,312.55 L443.08,310.99 L444.41,309.42 L445.74,307.83 L447.08,306.24 L448.41,304.64 L449.74,303.02 L451.08,301.40 L452.41,299.77 L453.74,298.13 L455.07,296.48 L456.41,294.83 L457.74,293.17 L459.07,291.51 L460.41,289.83 L461.74,288.16 L463.07,286.48 L464.41,284.79 L465.74,283.10 L467.07,281.41 L468.40,279.71 L469.74,278.00 L471.07,276.29 L472.40,274.57 L473.74,272.84 L475.07,271.11 L476.40,269.37 L477.74,267.62 L479.07,265.87 L480.40,264.10 L481.73,262.34 L483.07,260.56 L484.40,258.78 L485.73,256.99 L487.07,255.19 L488.40,253.39" fill="none" stroke="#000" stroke-width="4.3" stroke-linecap="butt"/>
<path d="M89.70,488.30 L89.82,488.30 L91.16,488.30 L92.49,488.30 L93.82,488.30 L95.16,488.30 L96.49,488.29 L97.82,488.29 L99.16,488.28 L100.49,488.28 L101.82,488.27 L103.15,488.26 L104.49,488.24 L105.82,488.23 L107.15,488.21 L108.49,488.20 L109.82,488.18 L111.15,488.15 L112.49,488.13 L113.82,488.10 L115.15,488.07 L116.49,488.04 L117.82,488.00 L119.15,487.96 L120.48,487.92 L121.82,487.88 L123.15,487.84 L124.48,487.79 L125.82,487.73 L127.15,487.68 L128.48,487.62 L129.82,487.56 L131.15,487.50 L132.48,487.43 L133.81,487.36 L135.15,487.28 L136.48,487.21 L137.81,487.13 L139.15,487.04 L140.48,486.96 L141.81,486.86 L143.15,486.77 L144.48,486.67 L145.81,486.57 L147.14,486.46 L148.48,486.36 L149.81,486.24 L151.14,486.13 L152.48,486.01 L153.81,485.88 L155.14,485.75 L156.48,485.62 L157.81,485.49 L159.14,485.35 L160.48,485.20 L161.81,485.06 L163.14,484.90 L164.47,484.75 L165.81,484.59 L167.14,484.43 L168.47,484.26 L169.81,484.08 L171.14,483.91 L172.47,483.73 L173.81,483.54 L175.14,483.35 L176.47,483.16 L177.80,482.96 L179.14,482.76 L180.47,482.55 L181.80,482.34 L183.14,482.13 L184.47,481.91 L185.80,481.68 L187.14,481.45 L188.47,481.22 L189.80,480.98 L191.13,480.74 L192.47,480.49 L193.80,480.24 L195.13,479.98 L196.47,479.72 L197.80,479.45 L199.13,479.18 L200.47,478.91 L201.80,478.63 L203.13,478.34 L204.47,478.05 L205.80,477.76 L207.13,477.46 L208.46,477.16 L209.80,476.85 L211.13,476.53 L212.46,476.21 L213.80,475.89 L215.13,475.56 L216.46,475.23 L217.80,474.89 L219.13,474.54 L220.46,474.20 L221.79,473.84 L223.13,473.48 L224.46,473.12 L225.79,472.75 L227.13,472.38 L228.46,472.00 L229.79,471.61 L231.13,471.22 L232.46,470.83 L233.79,470.43 L235.12,470.02 L236.46,469.61 L237.79,469.20 L239.12,468.78 L240.46,468.35 L241.79,467.92 L243.12,467.48 L244.46,467.04 L245.79,466.59 L247.12,466.14 L248.45,465.68 L249.79,465.22 L251.12,464.75 L252.45,464.27 L253.79,463.79 L255.12,463.31 L256.45,462.82 L257.79,462.32 L259.12,461.82 L260.45,461.31 L261.79,460.80 L263.12,460.28 L264.45,459.76 L265.78,459.23 L267.12,458.70 L268.45,458.16 L269.78,457.61 L271.12,457.06 L272.45,456.50 L273.78,455.94 L275.12,455.37 L276.45,454.80 L277.78,454.22 L279.11,453.63 L280.45,453.04 L281.78,452.44 L283.11,451.84 L284.45,451.23 L285.78,450.62 L287.11,450.00 L288.45,449.37 L289.78,448.74 L291.11,448.11 L292.44,447.46 L293.78,446.82 L295.11,446.16 L296.44,445.50 L297.78,444.83 L299.11,444.16 L300.44,443.48 L301.78,442.80 L303.11,442.11 L304.44,441.42 L305.78,440.71 L307.11,440.01 L308.44,439.29 L309.77,438.58 L311.11,437.85 L312.44,437.12 L313.77,436.38 L315.11,435.64 L316.44,434.89 L317.77,434.13 L319.11,433.37 L320.44,432.61 L321.77,431.83 L323.10,431.05 L324.44,430.27 L325.77,429.48 L327.10,428.68 L328.44,427.88 L329.77,427.07 L331.10,426.25 L332.44,425.43 L333.77,424.60 L335.10,423.77 L336.43,422.93 L337.77,422.08 L339.10,421.23 L340.43,420.37 L341.77,419.51 L343.10,418.64 L344.43,417.76 L345.77,416.87 L347.10,415.99 L348.43,415.09 L349.77,414.19 L351.10,413.28 L352.43,412.36 L353.76,411.44 L355.10,410.52 L356.43,409.58 L357.76,408.64 L359.10,407.70 L360.43,406.75 L361.76,405.79 L363.10,404.82 L364.43,403.85 L365.76,402.87 L367.09,401.89 L368.43,400.90 L369.76,399.90 L371.09,398.90 L372.43,397.89 L373.76,396.87 L375.09,395.85 L376.43,394.82 L377.76,393.79 L379.09,392.75 L380.42,391.70 L381.76,390.64 L383.09,389.58 L384.42,388.52 L385.76,387.44 L387.09,386.36 L388.42,385.28 L389.76,384.18 L391.09,383.08 L392.42,381.98 L393.76,380.86 L395.09,379.74 L396.42,378.62 L397.75,377.49 L399.09,376.35 L400.42,375.20 L401.75,374.05 L403.09,372.89 L404.42,371.73 L405.75,370.56 L407.09,369.38 L408.42,368.19 L409.75,367.00 L411.08,365.80 L412.42,364.60 L413.75,363.39 L415.08,362.17 L416.42,360.95 L417.75,359.71 L419.08,358.48 L420.42,357.23 L421.75,355.98 L423.08,354.72 L424.41,353.46 L425.75,352.19 L427.08,350.91 L428.41,349.63 L429.75,348.33 L431.08,347.04 L432.41,345.73 L433.75,344.42 L435.08,343.10 L436.41,341.78 L437.74,340.45 L439.08,339.11 L440.41,337.76 L441.74,336.41 L443.08,335.05 L444.41,333.69 L445.74,332.32 L447.08,330.94 L448.41,329.55 L449.74,328.16 L451.08,326.76 L452.41,325.35 L453.74,323.94 L455.07,322.52 L456.41,321.09 L457.74,319.66 L459.07,318.22 L460.41,316.77 L461.74,315.32 L463.07,313.86 L464.41,312.39 L465.74,310.92 L467.07,309.43 L468.40,307.95 L469.74,306.45 L471.07,304.95 L472.40,303.44 L473.74,301.92 L475.07,300.40 L476.40,298.87 L477.74,297.33 L479.07,295.79 L480.40,294.24 L481.73,292.68 L483.07,291.12 L484.40,289.55 L485.73,287.97 L487.07,286.38 L488.40,284.79" fill="none" stroke="#ff0000" stroke-width="4.4" stroke-linecap="round" stroke-dasharray="0 8.18" stroke-dashoffset="-0.8"/>
<path d="M89.70,488.30 L89.82,488.30 L91.16,488.30 L92.49,488.30 L93.82,488.30 L95.16,488.30 L96.49,488.29 L97.82,488.29 L99.16,488.28 L100.49,488.28 L101.82,488.27 L103.15,488.26 L104.49,488.25 L105.82,488.24 L107.15,488.23 L108.49,488.22 L109.82,488.20 L111.15,488.18 L112.49,488.17 L113.82,488.15 L115.15,488.12 L116.49,488.10 L117.82,488.07 L119.15,488.05 L120.48,488.02 L121.82,487.99 L123.15,487.95 L124.48,487.92 L125.82,487.88 L127.15,487.84 L128.48,487.80 L129.82,487.75 L131.15,487.71 L132.48,487.66 L133.81,487.61 L135.15,487.55 L136.48,487.50 L137.81,487.44 L139.15,487.38 L140.48,487.32 L141.81,487.25 L143.15,487.18 L144.48,487.11 L145.81,487.04 L147.14,486.96 L148.48,486.89 L149.81,486.81 L151.14,486.72 L152.48,486.64 L153.81,486.55 L155.14,486.45 L156.48,486.36 L157.81,486.26 L159.14,486.16 L160.48,486.06 L161.81,485.95 L163.14,485.84 L164.47,485.73 L165.81,485.61 L167.14,485.49 L168.47,485.37 L169.81,485.25 L171.14,485.12 L172.47,484.99 L173.81,484.85 L175.14,484.71 L176.47,484.57 L177.80,484.43 L179.14,484.28 L180.47,484.13 L181.80,483.98 L183.14,483.82 L184.47,483.66 L185.80,483.49 L187.14,483.33 L188.47,483.16 L189.80,482.98 L191.13,482.80 L192.47,482.62 L193.80,482.44 L195.13,482.25 L196.47,482.05 L197.80,481.86 L199.13,481.66 L200.47,481.46 L201.80,481.25 L203.13,481.04 L204.47,480.82 L205.80,480.61 L207.13,480.38 L208.46,480.16 L209.80,479.93 L211.13,479.69 L212.46,479.46 L213.80,479.22 L215.13,478.97 L216.46,478.72 L217.80,478.47 L219.13,478.21 L220.46,477.95 L221.79,477.68 L223.13,477.42 L224.46,477.14 L225.79,476.87 L227.13,476.58 L228.46,476.30 L229.79,476.01 L231.13,475.71 L232.46,475.42 L233.79,475.12 L235.12,474.81 L236.46,474.50 L237.79,474.18 L239.12,473.86 L240.46,473.54 L241.79,473.21 L243.12,472.88 L244.46,472.55 L245.79,472.20 L247.12,471.86 L248.45,471.51 L249.79,471.16 L251.12,470.80 L252.45,470.43 L253.79,470.07 L255.12,469.70 L256.45,469.32 L257.79,468.94 L259.12,468.55 L260.45,468.16 L261.79,467.77 L263.12,467.37 L264.45,466.97 L265.78,466.56 L267.12,466.14 L268.45,465.73 L269.78,465.30 L271.12,464.88 L272.45,464.45 L273.78,464.01 L275.12,463.57 L276.45,463.12 L277.78,462.67 L279.11,462.21 L280.45,461.75 L281.78,461.29 L283.11,460.82 L284.45,460.34 L285.78,459.86 L287.11,459.38 L288.45,458.89 L289.78,458.39 L291.11,457.89 L292.44,457.39 L293.78,456.88 L295.11,456.36 L296.44,455.84 L297.78,455.32 L299.11,454.79 L300.44,454.25 L301.78,453.71 L303.11,453.17 L304.44,452.62 L305.78,452.06 L307.11,451.50 L308.44,450.93 L309.77,450.36 L311.11,449.79 L312.44,449.20 L313.77,448.62 L315.11,448.03 L316.44,447.43 L317.77,446.83 L319.11,446.22 L320.44,445.60 L321.77,444.99 L323.10,444.36 L324.44,443.73 L325.77,443.10 L327.10,442.46 L328.44,441.81 L329.77,441.16 L331.10,440.50 L332.44,439.84 L333.77,439.17 L335.10,438.50 L336.43,437.82 L337.77,437.14 L339.10,436.45 L340.43,435.75 L341.77,435.05 L343.10,434.35 L344.43,433.64 L345.77,432.92 L347.10,432.20 L348.43,431.47 L349.77,430.73 L351.10,429.99 L352.43,429.25 L353.76,428.49 L355.10,427.74 L356.43,426.97 L357.76,426.21 L359.10,425.43 L360.43,424.65 L361.76,423.87 L363.10,423.07 L364.43,422.28 L365.76,421.47 L367.09,420.66 L368.43,419.85 L369.76,419.03 L371.09,418.20 L372.43,417.37 L373.76,416.53 L375.09,415.68 L376.43,414.83 L377.76,413.98 L379.09,413.11 L380.42,412.25 L381.76,411.37 L383.09,410.49 L384.42,409.60 L385.76,408.71 L387.09,407.81 L388.42,406.91 L389.76,406.00 L391.09,405.08 L392.42,404.16 L393.76,403.23 L395.09,402.29 L396.42,401.35 L397.75,400.40 L399.09,399.45 L400.42,398.49 L401.75,397.52 L403.09,396.55 L404.42,395.57 L405.75,394.59 L407.09,393.60 L408.42,392.60 L409.75,391.59 L411.08,390.58 L412.42,389.57 L413.75,388.54 L415.08,387.52 L416.42,386.48 L417.75,385.44 L419.08,384.39 L420.42,383.34 L421.75,382.27 L423.08,381.21 L424.41,380.13 L425.75,379.05 L427.08,377.97 L428.41,376.87 L429.75,375.77 L431.08,374.67 L432.41,373.55 L433.75,372.43 L435.08,371.31 L436.41,370.18 L437.74,369.04 L439.08,367.89 L440.41,366.74 L441.74,365.58 L443.08,364.42 L444.41,363.24 L445.74,362.07 L447.08,360.88 L448.41,359.69 L449.74,358.49 L451.08,357.28 L452.41,356.07 L453.74,354.85 L455.07,353.63 L456.41,352.40 L457.74,351.16 L459.07,349.91 L460.41,348.66 L461.74,347.40 L463.07,346.13 L464.41,344.86 L465.74,343.58 L467.07,342.29 L468.40,341.00 L469.74,339.70 L471.07,338.39 L472.40,337.08 L473.74,335.76 L475.07,334.43 L476.40,333.09 L477.74,331.75 L479.07,330.40 L480.40,329.05 L481.73,327.69 L483.07,326.32 L484.40,324.94 L485.73,323.56 L487.07,322.16 L488.40,320.77" fill="none" stroke="#0000ff" stroke-width="3.9" stroke-linecap="round" stroke-dasharray="17.4 13.1" stroke-dashoffset="-2"/>
<path d="M88.70,488.30 L89.70,488.30 L89.82,488.30 L91.16,488.30 L92.49,488.30 L93.82,488.30 L95.16,488.30" fill="none" stroke="#0000ff" stroke-width="3.9" stroke-linecap="butt"/>
</g>
<line x1="568.30" y1="236.70" x2="568.30" y2="488.80" stroke="#0d0d0d" stroke-width="1.15"/>
<line x1="568.30" y1="488.30" x2="720.00" y2="488.30" stroke="#0d0d0d" stroke-width="1.15"/>
<line x1="568.30" y1="236.70" x2="720.00" y2="236.70" stroke="#0d0d0d" stroke-width="1.15"/>
<line x1="593.22" y1="488.30" x2="593.22" y2="492.40" stroke="#0d0d0d" stroke-width="1.15"/>
<line x1="593.22" y1="236.70" x2="593.22" y2="240.80" stroke="#0d0d0d" stroke-width="1.15"/>
<line x1="655.52" y1="488.30" x2="655.52" y2="490.60" stroke="#0d0d0d" stroke-width="1.15"/>
<line x1="655.52" y1="236.70" x2="655.52" y2="239.00" stroke="#0d0d0d" stroke-width="1.15"/>
<line x1="717.81" y1="488.30" x2="717.81" y2="492.40" stroke="#0d0d0d" stroke-width="1.15"/>
<line x1="717.81" y1="236.70" x2="717.81" y2="240.80" stroke="#0d0d0d" stroke-width="1.15"/>
<line x1="564.20" y1="488.30" x2="568.30" y2="488.30" stroke="#0d0d0d" stroke-width="1.15"/>
<line x1="564.20" y1="362.55" x2="568.30" y2="362.55" stroke="#0d0d0d" stroke-width="1.15"/>
<line x1="564.20" y1="236.80" x2="568.30" y2="236.80" stroke="#0d0d0d" stroke-width="1.15"/>
<line x1="566.00" y1="425.40" x2="568.30" y2="425.40" stroke="#0d0d0d" stroke-width="1.15"/>
<line x1="566.00" y1="299.70" x2="568.30" y2="299.70" stroke="#0d0d0d" stroke-width="1.15"/>
<line x1="89.70" y1="518.40" x2="89.70" y2="770.40" stroke="#0d0d0d" stroke-width="1.15"/>
<line x1="89.70" y1="769.90" x2="488.40" y2="769.90" stroke="#0d0d0d" stroke-width="1.15"/>
<line x1="89.70" y1="518.40" x2="488.40" y2="518.40" stroke="#0d0d0d" stroke-width="1.15"/>
<line x1="488.40" y1="518.40" x2="488.40" y2="770.40" stroke="#0d0d0d" stroke-width="1.15"/>
<line x1="114.62" y1="769.90" x2="114.62" y2="774.00" stroke="#0d0d0d" stroke-width="1.15"/>
<line x1="114.62" y1="518.40" x2="114.62" y2="522.50" stroke="#0d0d0d" stroke-width="1.15"/>
<line x1="176.92" y1="769.90" x2="176.92" y2="772.20" stroke="#0d0d0d" stroke-width="1.15"/>
<line x1="176.92" y1="518.40" x2="176.92" y2="520.70" stroke="#0d0d0d" stroke-width="1.15"/>
<line x1="239.21" y1="769.90" x2="239.21" y2="774.00" stroke="#0d0d0d" stroke-width="1.15"/>
<line x1="239.21" y1="518.40" x2="239.21" y2="522.50" stroke="#0d0d0d" stroke-width="1.15"/>
<line x1="301.51" y1="769.90" x2="301.51" y2="772.20" stroke="#0d0d0d" stroke-width="1.15"/>
<line x1="301.51" y1="518.40" x2="301.51" y2="520.70" stroke="#0d0d0d" stroke-width="1.15"/>
<line x1="363.81" y1="769.90" x2="363.81" y2="774.00" stroke="#0d0d0d" stroke-width="1.15"/>
<line x1="363.81" y1="518.40" x2="363.81" y2="522.50" stroke="#0d0d0d" stroke-width="1.15"/>
<line x1="426.10" y1="769.90" x2="426.10" y2="772.20" stroke="#0d0d0d" stroke-width="1.15"/>
<line x1="426.10" y1="518.40" x2="426.10" y2="520.70" stroke="#0d0d0d" stroke-width="1.15"/>
<line x1="488.40" y1="769.90" x2="488.40" y2="774.00" stroke="#0d0d0d" stroke-width="1.15"/>
<line x1="488.40" y1="518.40" x2="488.40" y2="522.50" stroke="#0d0d0d" stroke-width="1.15"/>
<line x1="85.60" y1="769.90" x2="89.70" y2="769.90" stroke="#0d0d0d" stroke-width="1.15"/>
<line x1="484.30" y1="769.90" x2="488.40" y2="769.90" stroke="#0d0d0d" stroke-width="1.15"/>
<line x1="85.60" y1="669.40" x2="89.70" y2="669.40" stroke="#0d0d0d" stroke-width="1.15"/>
<line x1="484.30" y1="669.40" x2="488.40" y2="669.40" stroke="#0d0d0d" stroke-width="1.15"/>
<line x1="85.60" y1="568.90" x2="89.70" y2="568.90" stroke="#0d0d0d" stroke-width="1.15"/>
<line x1="484.30" y1="568.90" x2="488.40" y2="568.90" stroke="#0d0d0d" stroke-width="1.15"/>
<line x1="87.40" y1="719.65" x2="89.70" y2="719.65" stroke="#0d0d0d" stroke-width="1.15"/>
<line x1="486.10" y1="719.65" x2="488.40" y2="719.65" stroke="#0d0d0d" stroke-width="1.15"/>
<line x1="87.40" y1="619.15" x2="89.70" y2="619.15" stroke="#0d0d0d" stroke-width="1.15"/>
<line x1="486.10" y1="619.15" x2="488.40" y2="619.15" stroke="#0d0d0d" stroke-width="1.15"/>
<line x1="87.40" y1="518.65" x2="89.70" y2="518.65" stroke="#0d0d0d" stroke-width="1.15"/>
<line x1="486.10" y1="518.65" x2="488.40" y2="518.65" stroke="#0d0d0d" stroke-width="1.15"/>
<clipPath id="c3"><rect x="89.4" y="515.4" width="399.3" height="255.2"/></clipPath>
<g clip-path="url(#c3)">
<path d="M89.70,769.90 L89.82,769.90 L91.16,769.91 L92.49,769.92 L93.82,769.93 L95.16,769.94 L96.49,769.95 L97.82,769.95 L99.16,769.95 L100.49,769.95 L101.82,769.95 L103.15,769.94 L104.49,769.93 L105.82,769.92 L107.15,769.91 L108.49,769.89 L109.82,769.87 L111.15,769.85 L112.49,769.83 L113.82,769.80 L115.15,769.77 L116.49,769.73 L117.82,769.69 L119.15,769.65 L120.48,769.61 L121.82,769.56 L123.15,769.51 L124.48,769.45 L125.82,769.40 L127.15,769.33 L128.48,769.27 L129.82,769.20 L131.15,769.13 L132.48,769.05 L133.81,768.97 L135.15,768.89 L136.48,768.81 L137.81,768.72 L139.15,768.62 L140.48,768.53 L141.81,768.43 L143.15,768.32 L144.48,768.21 L145.81,768.10 L147.14,767.99 L148.48,767.87 L149.81,767.74 L151.14,767.62 L152.48,767.48 L153.81,767.35 L155.14,767.21 L156.48,767.06 L157.81,766.91 L159.14,766.76 L160.48,766.60 L161.81,766.44 L163.14,766.27 L164.47,766.10 L165.81,765.92 L167.14,765.74 L168.47,765.56 L169.81,765.37 L171.14,765.17 L172.47,764.97 L173.81,764.77 L175.14,764.56 L176.47,764.35 L177.80,764.13 L179.14,763.90 L180.47,763.67 L181.80,763.44 L183.14,763.20 L184.47,762.96 L185.80,762.72 L187.14,762.47 L188.47,762.21 L189.80,761.95 L191.13,761.69 L192.47,761.42 L193.80,761.14 L195.13,760.86 L196.47,760.57 L197.80,760.28 L199.13,759.98 L200.47,759.67 L201.80,759.36 L203.13,759.04 L204.47,758.72 L205.80,758.39 L207.13,758.05 L208.46,757.70 L209.80,757.35 L211.13,757.00 L212.46,756.64 L213.80,756.27 L215.13,755.90 L216.46,755.53 L217.80,755.15 L219.13,754.76 L220.46,754.37 L221.79,753.97 L223.13,753.57 L224.46,753.16 L225.79,752.75 L227.13,752.33 L228.46,751.91 L229.79,751.48 L231.13,751.04 L232.46,750.60 L233.79,750.15 L235.12,749.70 L236.46,749.25 L237.79,748.78 L239.12,748.32 L240.46,747.84 L241.79,747.36 L243.12,746.88 L244.46,746.39 L245.79,745.89 L247.12,745.39 L248.45,744.89 L249.79,744.37 L251.12,743.85 L252.45,743.33 L253.79,742.80 L255.12,742.27 L256.45,741.73 L257.79,741.18 L259.12,740.63 L260.45,740.07 L261.79,739.51 L263.12,738.94 L264.45,738.37 L265.78,737.79 L267.12,737.20 L268.45,736.61 L269.78,736.01 L271.12,735.41 L272.45,734.80 L273.78,734.19 L275.12,733.57 L276.45,732.95 L277.78,732.32 L279.11,731.68 L280.45,731.04 L281.78,730.39 L283.11,729.74 L284.45,729.08 L285.78,728.41 L287.11,727.74 L288.45,727.06 L289.78,726.38 L291.11,725.69 L292.44,725.00 L293.78,724.30 L295.11,723.59 L296.44,722.88 L297.78,722.16 L299.11,721.44 L300.44,720.71 L301.78,719.98 L303.11,719.24 L304.44,718.49 L305.78,717.74 L307.11,716.99 L308.44,716.22 L309.77,715.46 L311.11,714.69 L312.44,713.91 L313.77,713.13 L315.11,712.34 L316.44,711.54 L317.77,710.74 L319.11,709.94 L320.44,709.12 L321.77,708.31 L323.10,707.48 L324.44,706.65 L325.77,705.82 L327.10,704.97 L328.44,704.13 L329.77,703.27 L331.10,702.41 L332.44,701.54 L333.77,700.67 L335.10,699.79 L336.43,698.90 L337.77,698.01 L339.10,697.11 L340.43,696.21 L341.77,695.29 L343.10,694.37 L344.43,693.45 L345.77,692.52 L347.10,691.58 L348.43,690.63 L349.77,689.67 L351.10,688.71 L352.43,687.75 L353.76,686.77 L355.10,685.79 L356.43,684.80 L357.76,683.81 L359.10,682.81 L360.43,681.80 L361.76,680.79 L363.10,679.77 L364.43,678.74 L365.76,677.71 L367.09,676.67 L368.43,675.63 L369.76,674.57 L371.09,673.51 L372.43,672.45 L373.76,671.38 L375.09,670.30 L376.43,669.21 L377.76,668.12 L379.09,667.03 L380.42,665.92 L381.76,664.81 L383.09,663.70 L384.42,662.57 L385.76,661.44 L387.09,660.31 L388.42,659.17 L389.76,658.02 L391.09,656.86 L392.42,655.70 L393.76,654.54 L395.09,653.36 L396.42,652.18 L397.75,651.00 L399.09,649.81 L400.42,648.61 L401.75,647.41 L403.09,646.20 L404.42,644.98 L405.75,643.76 L407.09,642.53 L408.42,641.30 L409.75,640.06 L411.08,638.81 L412.42,637.56 L413.75,636.30 L415.08,635.04 L416.42,633.76 L417.75,632.49 L419.08,631.20 L420.42,629.91 L421.75,628.61 L423.08,627.30 L424.41,625.99 L425.75,624.67 L427.08,623.35 L428.41,622.01 L429.75,620.67 L431.08,619.32 L432.41,617.97 L433.75,616.60 L435.08,615.23 L436.41,613.85 L437.74,612.46 L439.08,611.06 L440.41,609.64 L441.74,608.21 L443.08,606.78 L444.41,605.33 L445.74,603.87 L447.08,602.40 L448.41,600.93 L449.74,599.44 L451.08,597.95 L452.41,596.45 L453.74,594.94 L455.07,593.43 L456.41,591.91 L457.74,590.38 L459.07,588.85 L460.41,587.31 L461.74,585.77 L463.07,584.22 L464.41,582.67 L465.74,581.12 L467.07,579.56 L468.40,578.00 L469.74,576.43 L471.07,574.85 L472.40,573.27 L473.74,571.68 L475.07,570.08 L476.40,568.48 L477.74,566.87 L479.07,565.26 L480.40,563.64 L481.73,562.01 L483.07,560.38 L484.40,558.74 L485.73,557.09 L487.07,555.44 L488.40,553.78" fill="none" stroke="#000" stroke-width="4.3" stroke-linecap="butt"/>
<path d="M89.70,769.90 L89.82,769.90 L91.16,769.90 L92.49,769.90 L93.82,769.90 L95.16,769.90 L96.49,769.89 L97.82,769.89 L99.16,769.88 L100.49,769.88 L101.82,769.87 L103.15,769.86 L104.49,769.85 L105.82,769.84 L107.15,769.82 L108.49,769.80 L109.82,769.79 L111.15,769.76 L112.49,769.74 L113.82,769.72 L115.15,769.69 L116.49,769.66 L117.82,769.63 L119.15,769.59 L120.48,769.55 L121.82,769.51 L123.15,769.47 L124.48,769.43 L125.82,769.38 L127.15,769.33 L128.48,769.28 L129.82,769.22 L131.15,769.16 L132.48,769.10 L133.81,769.03 L135.15,768.97 L136.48,768.89 L137.81,768.82 L139.15,768.74 L140.48,768.66 L141.81,768.58 L143.15,768.49 L144.48,768.40 L145.81,768.31 L147.14,768.21 L148.48,768.11 L149.81,768.01 L151.14,767.90 L152.48,767.79 L153.81,767.68 L155.14,767.56 L156.48,767.44 L157.81,767.31 L159.14,767.18 L160.48,767.05 L161.81,766.92 L163.14,766.78 L164.47,766.63 L165.81,766.49 L167.14,766.34 L168.47,766.18 L169.81,766.02 L171.14,765.86 L172.47,765.69 L173.81,765.52 L175.14,765.35 L176.47,765.17 L177.80,764.99 L179.14,764.80 L180.47,764.61 L181.80,764.42 L183.14,764.22 L184.47,764.02 L185.80,763.81 L187.14,763.60 L188.47,763.39 L189.80,763.17 L191.13,762.94 L192.47,762.72 L193.80,762.48 L195.13,762.25 L196.47,762.01 L197.80,761.76 L199.13,761.51 L200.47,761.26 L201.80,761.00 L203.13,760.74 L204.47,760.47 L205.80,760.20 L207.13,759.93 L208.46,759.65 L209.80,759.36 L211.13,759.07 L212.46,758.78 L213.80,758.48 L215.13,758.18 L216.46,757.87 L217.80,757.56 L219.13,757.24 L220.46,756.92 L221.79,756.60 L223.13,756.27 L224.46,755.93 L225.79,755.59 L227.13,755.25 L228.46,754.90 L229.79,754.55 L231.13,754.19 L232.46,753.83 L233.79,753.46 L235.12,753.08 L236.46,752.71 L237.79,752.32 L239.12,751.94 L240.46,751.55 L241.79,751.15 L243.12,750.75 L244.46,750.34 L245.79,749.93 L247.12,749.51 L248.45,749.09 L249.79,748.66 L251.12,748.23 L252.45,747.80 L253.79,747.36 L255.12,746.91 L256.45,746.46 L257.79,746.00 L259.12,745.54 L260.45,745.07 L261.79,744.60 L263.12,744.13 L264.45,743.64 L265.78,743.16 L267.12,742.66 L268.45,742.17 L269.78,741.67 L271.12,741.16 L272.45,740.65 L273.78,740.13 L275.12,739.61 L276.45,739.08 L277.78,738.54 L279.11,738.01 L280.45,737.46 L281.78,736.91 L283.11,736.36 L284.45,735.80 L285.78,735.23 L287.11,734.66 L288.45,734.09 L289.78,733.51 L291.11,732.92 L292.44,732.33 L293.78,731.73 L295.11,731.13 L296.44,730.52 L297.78,729.91 L299.11,729.29 L300.44,728.67 L301.78,728.04 L303.11,727.41 L304.44,726.77 L305.78,726.12 L307.11,725.47 L308.44,724.81 L309.77,724.15 L311.11,723.49 L312.44,722.81 L313.77,722.14 L315.11,721.45 L316.44,720.76 L317.77,720.07 L319.11,719.37 L320.44,718.66 L321.77,717.95 L323.10,717.23 L324.44,716.51 L325.77,715.78 L327.10,715.05 L328.44,714.31 L329.77,713.57 L331.10,712.82 L332.44,712.06 L333.77,711.30 L335.10,710.53 L336.43,709.76 L337.77,708.98 L339.10,708.20 L340.43,707.41 L341.77,706.61 L343.10,705.81 L344.43,705.00 L345.77,704.19 L347.10,703.37 L348.43,702.55 L349.77,701.72 L351.10,700.88 L352.43,700.04 L353.76,699.19 L355.10,698.34 L356.43,697.48 L357.76,696.62 L359.10,695.75 L360.43,694.87 L361.76,693.99 L363.10,693.10 L364.43,692.21 L365.76,691.31 L367.09,690.40 L368.43,689.49 L369.76,688.57 L371.09,687.65 L372.43,686.72 L373.76,685.79 L375.09,684.85 L376.43,683.90 L377.76,682.95 L379.09,681.99 L380.42,681.03 L381.76,680.06 L383.09,679.08 L384.42,678.10 L385.76,677.11 L387.09,676.12 L388.42,675.12 L389.76,674.11 L391.09,673.10 L392.42,672.08 L393.76,671.06 L395.09,670.03 L396.42,668.99 L397.75,667.95 L399.09,666.90 L400.42,665.85 L401.75,664.79 L403.09,663.72 L404.42,662.65 L405.75,661.58 L407.09,660.49 L408.42,659.40 L409.75,658.31 L411.08,657.20 L412.42,656.09 L413.75,654.98 L415.08,653.86 L416.42,652.73 L417.75,651.60 L419.08,650.46 L420.42,649.32 L421.75,648.17 L423.08,647.01 L424.41,645.85 L425.75,644.68 L427.08,643.50 L428.41,642.32 L429.75,641.13 L431.08,639.94 L432.41,638.74 L433.75,637.53 L435.08,636.32 L436.41,635.10 L437.74,633.87 L439.08,632.64 L440.41,631.41 L441.74,630.16 L443.08,628.91 L444.41,627.66 L445.74,626.39 L447.08,625.13 L448.41,623.85 L449.74,622.57 L451.08,621.28 L452.41,619.99 L453.74,618.69 L455.07,617.38 L456.41,616.07 L457.74,614.75 L459.07,613.43 L460.41,612.09 L461.74,610.76 L463.07,609.41 L464.41,608.06 L465.74,606.71 L467.07,605.34 L468.40,603.97 L469.74,602.60 L471.07,601.22 L472.40,599.83 L473.74,598.43 L475.07,597.03 L476.40,595.63 L477.74,594.21 L479.07,592.79 L480.40,591.36 L481.73,589.93 L483.07,588.49 L484.40,587.05 L485.73,585.59 L487.07,584.14 L488.40,582.67" fill="none" stroke="#ff0000" stroke-width="4.4" stroke-linecap="round" stroke-dasharray="0 8.18" stroke-dashoffset="-0.8"/>
<path d="M89.70,769.90 L89.82,769.90 L91.16,769.90 L92.49,769.90 L93.82,769.90 L95.16,769.90 L96.49,769.89 L97.82,769.89 L99.16,769.89 L100.49,769.88 L101.82,769.87 L103.15,769.87 L104.49,769.86 L105.82,769.85 L107.15,769.84 L108.49,769.82 L109.82,769.81 L111.15,769.79 L112.49,769.78 L113.82,769.76 L115.15,769.74 L116.49,769.72 L117.82,769.69 L119.15,769.67 L120.48,769.64 L121.82,769.61 L123.15,769.58 L124.48,769.55 L125.82,769.51 L127.15,769.48 L128.48,769.44 L129.82,769.40 L131.15,769.35 L132.48,769.31 L133.81,769.26 L135.15,769.21 L136.48,769.16 L137.81,769.11 L139.15,769.05 L140.48,769.00 L141.81,768.94 L143.15,768.87 L144.48,768.81 L145.81,768.74 L147.14,768.67 L148.48,768.60 L149.81,768.52 L151.14,768.45 L152.48,768.37 L153.81,768.29 L155.14,768.20 L156.48,768.11 L157.81,768.02 L159.14,767.93 L160.48,767.84 L161.81,767.74 L163.14,767.64 L164.47,767.53 L165.81,767.43 L167.14,767.32 L168.47,767.21 L169.81,767.09 L171.14,766.97 L172.47,766.85 L173.81,766.73 L175.14,766.60 L176.47,766.47 L177.80,766.34 L179.14,766.20 L180.47,766.07 L181.80,765.92 L183.14,765.78 L184.47,765.63 L185.80,765.48 L187.14,765.33 L188.47,765.17 L189.80,765.01 L191.13,764.84 L192.47,764.68 L193.80,764.51 L195.13,764.33 L196.47,764.15 L197.80,763.97 L199.13,763.79 L200.47,763.60 L201.80,763.41 L203.13,763.22 L204.47,763.02 L205.80,762.82 L207.13,762.62 L208.46,762.41 L209.80,762.20 L211.13,761.98 L212.46,761.76 L213.80,761.54 L215.13,761.32 L216.46,761.09 L217.80,760.85 L219.13,760.62 L220.46,760.38 L221.79,760.13 L223.13,759.89 L224.46,759.63 L225.79,759.38 L227.13,759.12 L228.46,758.86 L229.79,758.59 L231.13,758.32 L232.46,758.05 L233.79,757.77 L235.12,757.49 L236.46,757.20 L237.79,756.91 L239.12,756.62 L240.46,756.32 L241.79,756.02 L243.12,755.71 L244.46,755.41 L245.79,755.09 L247.12,754.77 L248.45,754.45 L249.79,754.13 L251.12,753.80 L252.45,753.46 L253.79,753.13 L255.12,752.78 L256.45,752.44 L257.79,752.09 L259.12,751.73 L260.45,751.37 L261.79,751.01 L263.12,750.64 L264.45,750.27 L265.78,749.90 L267.12,749.52 L268.45,749.13 L269.78,748.74 L271.12,748.35 L272.45,747.95 L273.78,747.55 L275.12,747.15 L276.45,746.74 L277.78,746.32 L279.11,745.90 L280.45,745.48 L281.78,745.05 L283.11,744.62 L284.45,744.18 L285.78,743.74 L287.11,743.29 L288.45,742.84 L289.78,742.39 L291.11,741.93 L292.44,741.46 L293.78,740.99 L295.11,740.52 L296.44,740.04 L297.78,739.56 L299.11,739.07 L300.44,738.58 L301.78,738.08 L303.11,737.58 L304.44,737.07 L305.78,736.56 L307.11,736.04 L308.44,735.52 L309.77,735.00 L311.11,734.47 L312.44,733.93 L313.77,733.39 L315.11,732.85 L316.44,732.30 L317.77,731.74 L319.11,731.18 L320.44,730.62 L321.77,730.05 L323.10,729.48 L324.44,728.90 L325.77,728.31 L327.10,727.72 L328.44,727.13 L329.77,726.53 L331.10,725.93 L332.44,725.32 L333.77,724.70 L335.10,724.09 L336.43,723.46 L337.77,722.83 L339.10,722.20 L340.43,721.56 L341.77,720.91 L343.10,720.26 L344.43,719.61 L345.77,718.95 L347.10,718.28 L348.43,717.61 L349.77,716.94 L351.10,716.26 L352.43,715.57 L353.76,714.88 L355.10,714.18 L356.43,713.48 L357.76,712.77 L359.10,712.06 L360.43,711.34 L361.76,710.62 L363.10,709.89 L364.43,709.16 L365.76,708.42 L367.09,707.67 L368.43,706.92 L369.76,706.17 L371.09,705.41 L372.43,704.64 L373.76,703.87 L375.09,703.09 L376.43,702.31 L377.76,701.52 L379.09,700.73 L380.42,699.93 L381.76,699.13 L383.09,698.32 L384.42,697.50 L385.76,696.68 L387.09,695.85 L388.42,695.02 L389.76,694.18 L391.09,693.34 L392.42,692.49 L393.76,691.63 L395.09,690.77 L396.42,689.91 L397.75,689.03 L399.09,688.16 L400.42,687.27 L401.75,686.39 L403.09,685.49 L404.42,684.59 L405.75,683.68 L407.09,682.77 L408.42,681.85 L409.75,680.93 L411.08,680.00 L412.42,679.07 L413.75,678.13 L415.08,677.18 L416.42,676.23 L417.75,675.27 L419.08,674.30 L420.42,673.33 L421.75,672.36 L423.08,671.37 L424.41,670.39 L425.75,669.39 L427.08,668.39 L428.41,667.39 L429.75,666.38 L431.08,665.36 L432.41,664.33 L433.75,663.30 L435.08,662.27 L436.41,661.23 L437.74,660.18 L439.08,659.12 L440.41,658.06 L441.74,657.00 L443.08,655.93 L444.41,654.85 L445.74,653.76 L447.08,652.67 L448.41,651.58 L449.74,650.47 L451.08,649.37 L452.41,648.25 L453.74,647.13 L455.07,646.00 L456.41,644.87 L457.74,643.73 L459.07,642.58 L460.41,641.43 L461.74,640.27 L463.07,639.11 L464.41,637.94 L465.74,636.76 L467.07,635.57 L468.40,634.38 L469.74,633.19 L471.07,631.99 L472.40,630.78 L473.74,629.56 L475.07,628.34 L476.40,627.11 L477.74,625.88 L479.07,624.64 L480.40,623.39 L481.73,622.13 L483.07,620.87 L484.40,619.61 L485.73,618.34 L487.07,617.06 L488.40,615.77" fill="none" stroke="#0000ff" stroke-width="3.9" stroke-linecap="round" stroke-dasharray="17.4 13.1" stroke-dashoffset="-2"/>
<path d="M88.70,769.90 L89.70,769.90 L89.82,769.90 L91.16,769.90 L92.49,769.90 L93.82,769.90 L95.16,769.90" fill="none" stroke="#0000ff" stroke-width="3.9" stroke-linecap="butt"/>
</g>
<line x1="568.30" y1="518.40" x2="568.30" y2="770.40" stroke="#0d0d0d" stroke-width="1.15"/>
<line x1="568.30" y1="769.90" x2="720.00" y2="769.90" stroke="#0d0d0d" stroke-width="1.15"/>
<line x1="568.30" y1="518.40" x2="720.00" y2="518.40" stroke="#0d0d0d" stroke-width="1.15"/>
<line x1="593.22" y1="769.90" x2="593.22" y2="774.00" stroke="#0d0d0d" stroke-width="1.15"/>
<line x1="593.22" y1="518.40" x2="593.22" y2="522.50" stroke="#0d0d0d" stroke-width="1.15"/>
<line x1="655.52" y1="769.90" x2="655.52" y2="772.20" stroke="#0d0d0d" stroke-width="1.15"/>
<line x1="655.52" y1="518.40" x2="655.52" y2="520.70" stroke="#0d0d0d" stroke-width="1.15"/>
<line x1="717.81" y1="769.90" x2="717.81" y2="774.00" stroke="#0d0d0d" stroke-width="1.15"/>
<line x1="717.81" y1="518.40" x2="717.81" y2="522.50" stroke="#0d0d0d" stroke-width="1.15"/>
<line x1="564.20" y1="769.90" x2="568.30" y2="769.90" stroke="#0d0d0d" stroke-width="1.15"/>
<line x1="564.20" y1="644.15" x2="568.30" y2="644.15" stroke="#0d0d0d" stroke-width="1.15"/>
<line x1="564.20" y1="518.40" x2="568.30" y2="518.40" stroke="#0d0d0d" stroke-width="1.15"/>
<line x1="566.00" y1="707.00" x2="568.30" y2="707.00" stroke="#0d0d0d" stroke-width="1.15"/>
<line x1="566.00" y1="581.30" x2="568.30" y2="581.30" stroke="#0d0d0d" stroke-width="1.15"/>
<clipPath id="c4"><rect x="568.0" y="-3" width="152.30000000000004" height="210.7"/></clipPath>
<g clip-path="url(#c4)">
<path d="M568.30,168.20 L569.33,168.10 L570.36,168.00 L571.39,167.89 L572.43,167.78 L573.46,167.67 L574.49,167.56 L575.52,167.44 L576.55,167.31 L577.58,167.19 L578.62,167.06 L579.65,166.92 L580.68,166.79 L581.71,166.65 L582.74,166.51 L583.77,166.36 L584.80,166.21 L585.84,166.06 L586.87,165.91 L587.90,165.75 L588.93,165.59 L589.96,165.43 L590.99,165.26 L592.03,165.10 L593.06,164.93 L594.09,164.75 L595.12,164.58 L596.15,164.40 L597.18,164.22 L598.21,164.04 L599.25,163.85 L600.28,163.67 L601.31,163.48 L602.34,163.29 L603.37,163.09 L604.40,162.90 L605.44,162.70 L606.47,162.50 L607.50,162.30 L608.53,162.10 L609.56,161.89 L610.59,161.68 L611.62,161.48 L612.66,161.27 L613.69,161.06 L614.72,160.84 L615.75,160.63 L616.78,160.41 L617.81,160.19 L618.85,159.98 L619.88,159.76 L620.91,159.54 L621.94,159.31 L622.97,159.09 L624.00,158.86 L625.03,158.64 L626.07,158.41 L627.10,158.18 L628.13,157.95 L629.16,157.72 L630.19,157.49 L631.22,157.26 L632.26,157.03 L633.29,156.79 L634.32,156.56 L635.35,156.32 L636.38,156.08 L637.41,155.84 L638.44,155.60 L639.48,155.36 L640.51,155.12 L641.54,154.88 L642.57,154.63 L643.60,154.39 L644.63,154.14 L645.67,153.89 L646.70,153.64 L647.73,153.39 L648.76,153.14 L649.79,152.89 L650.82,152.64 L651.86,152.38 L652.89,152.13 L653.92,151.87 L654.95,151.62 L655.98,151.36 L657.01,151.10 L658.04,150.84 L659.08,150.58 L660.11,150.31 L661.14,150.05 L662.17,149.79 L663.20,149.52 L664.23,149.26 L665.27,148.99 L666.30,148.72 L667.33,148.45 L668.36,148.19 L669.39,147.92 L670.42,147.64 L671.45,147.37 L672.49,147.10 L673.52,146.83 L674.55,146.55 L675.58,146.28 L676.61,146.00 L677.64,145.72 L678.68,145.45 L679.71,145.17 L680.74,144.89 L681.77,144.61 L682.80,144.33 L683.83,144.05 L684.86,143.76 L685.90,143.48 L686.93,143.20 L687.96,142.91 L688.99,142.63 L690.02,142.34 L691.05,142.05 L692.09,141.77 L693.12,141.48 L694.15,141.19 L695.18,140.90 L696.21,140.61 L697.24,140.32 L698.27,140.02 L699.31,139.73 L700.34,139.44 L701.37,139.14 L702.40,138.84 L703.43,138.55 L704.46,138.25 L705.50,137.95 L706.53,137.65 L707.56,137.34 L708.59,137.04 L709.62,136.74 L710.65,136.43 L711.68,136.13 L712.72,135.82 L713.75,135.51 L714.78,135.20 L715.81,134.89 L716.84,134.58 L717.87,134.27 L718.91,133.95 L719.94,133.64 L720.97,133.32 L722.00,133.00" fill="none" stroke="#000" stroke-width="4.3" stroke-linecap="butt"/>
<path d="M568.30,168.20 L569.33,168.10 L570.36,168.00 L571.39,167.89 L572.43,167.78 L573.46,167.67 L574.49,167.56 L575.52,167.44 L576.55,167.31 L577.58,167.19 L578.62,167.06 L579.65,166.92 L580.68,166.79 L581.71,166.65 L582.74,166.51 L583.77,166.36 L584.80,166.21 L585.84,166.06 L586.87,165.91 L587.90,165.75 L588.93,165.59 L589.96,165.43 L590.99,165.26 L592.03,165.10 L593.06,164.93 L594.09,164.75 L595.12,164.58 L596.15,164.40 L597.18,164.22 L598.21,164.04 L599.25,163.85 L600.28,163.67 L601.31,163.48 L602.34,163.29 L603.37,163.09 L604.40,162.90 L605.44,162.70 L606.47,162.50 L607.50,162.30 L608.53,162.10 L609.56,161.89 L610.59,161.68 L611.62,161.48 L612.66,161.27 L613.69,161.06 L614.72,160.84 L615.75,160.63 L616.78,160.41 L617.81,160.19 L618.85,159.98 L619.88,159.76 L620.91,159.54 L621.94,159.31 L622.97,159.09 L624.00,158.86 L625.03,158.64 L626.07,158.41 L627.10,158.18 L628.13,157.95 L629.16,157.72 L630.19,157.49 L631.22,157.26 L632.26,157.03 L633.29,156.79 L634.32,156.56 L635.35,156.32 L636.38,156.08 L637.41,155.84 L638.44,155.60 L639.48,155.36 L640.51,155.12 L641.54,154.88 L642.57,154.63 L643.60,154.39 L644.63,154.14 L645.67,153.89 L646.70,153.64 L647.73,153.39 L648.76,153.14 L649.79,152.89 L650.82,152.64 L651.86,152.38 L652.89,152.13 L653.92,151.87 L654.95,151.62 L655.98,151.36 L657.01,151.10 L658.04,150.84 L659.08,150.58 L660.11,150.31 L661.14,150.05 L662.17,149.79 L663.20,149.52 L664.23,149.26 L665.27,148.99 L666.30,148.72 L667.33,148.45 L668.36,148.19 L669.39,147.92 L670.42,147.64 L671.45,147.37 L672.49,147.10 L673.52,146.83 L674.55,146.55 L675.58,146.28 L676.61,146.00 L677.64,145.72 L678.68,145.45 L679.71,145.17 L680.74,144.89 L681.77,144.61 L682.80,144.33 L683.83,144.05 L684.86,143.76 L685.90,143.48 L686.93,143.20 L687.96,142.91 L688.99,142.63 L690.02,142.34 L691.05,142.05 L692.09,141.77 L693.12,141.48 L694.15,141.19 L695.18,140.90 L696.21,140.61 L697.24,140.32 L698.27,140.02 L699.31,139.73 L700.34,139.44 L701.37,139.14 L702.40,138.84 L703.43,138.55 L704.46,138.25 L705.50,137.95 L706.53,137.65 L707.56,137.34 L708.59,137.04 L709.62,136.74 L710.65,136.43 L711.68,136.13 L712.72,135.82 L713.75,135.51 L714.78,135.20 L715.81,134.89 L716.84,134.58 L717.87,134.27 L718.91,133.95 L719.94,133.64 L720.97,133.32 L722.00,133.00" fill="none" stroke="#ff0000" stroke-width="4.4" stroke-linecap="round" stroke-dasharray="0 8.18" stroke-dashoffset="-0.8"/>
<path d="M568.30,168.20 L569.33,168.10 L570.36,168.00 L571.39,167.89 L572.43,167.78 L573.46,167.67 L574.49,167.56 L575.52,167.44 L576.55,167.31 L577.58,167.19 L578.62,167.06 L579.65,166.92 L580.68,166.79 L581.71,166.65 L582.74,166.51 L583.77,166.36 L584.80,166.21 L585.84,166.06 L586.87,165.91 L587.90,165.75 L588.93,165.59 L589.96,165.43 L590.99,165.26 L592.03,165.10 L593.06,164.93 L594.09,164.75 L595.12,164.58 L596.15,164.40 L597.18,164.22 L598.21,164.04 L599.25,163.85 L600.28,163.67 L601.31,163.48 L602.34,163.29 L603.37,163.09 L604.40,162.90 L605.44,162.70 L606.47,162.50 L607.50,162.30 L608.53,162.10 L609.56,161.89 L610.59,161.68 L611.62,161.48 L612.66,161.27 L613.69,161.06 L614.72,160.84 L615.75,160.63 L616.78,160.41 L617.81,160.19 L618.85,159.98 L619.88,159.76 L620.91,159.54 L621.94,159.31 L622.97,159.09 L624.00,158.86 L625.03,158.64 L626.07,158.41 L627.10,158.18 L628.13,157.95 L629.16,157.72 L630.19,157.49 L631.22,157.26 L632.26,157.03 L633.29,156.79 L634.32,156.56 L635.35,156.32 L636.38,156.08 L637.41,155.84 L638.44,155.60 L639.48,155.36 L640.51,155.12 L641.54,154.88 L642.57,154.63 L643.60,154.39 L644.63,154.14 L645.67,153.89 L646.70,153.64 L647.73,153.39 L648.76,153.14 L649.79,152.89 L650.82,152.64 L651.86,152.38 L652.89,152.13 L653.92,151.87 L654.95,151.62 L655.98,151.36 L657.01,151.10 L658.04,150.84 L659.08,150.58 L660.11,150.31 L661.14,150.05 L662.17,149.79 L663.20,149.52 L664.23,149.26 L665.27,148.99 L666.30,148.72 L667.33,148.45 L668.36,148.19 L669.39,147.92 L670.42,147.64 L671.45,147.37 L672.49,147.10 L673.52,146.83 L674.55,146.55 L675.58,146.28 L676.61,146.00 L677.64,145.72 L678.68,145.45 L679.71,145.17 L680.74,144.89 L681.77,144.61 L682.80,144.33 L683.83,144.05 L684.86,143.76 L685.90,143.48 L686.93,143.20 L687.96,142.91 L688.99,142.63 L690.02,142.34 L691.05,142.05 L692.09,141.77 L693.12,141.48 L694.15,141.19 L695.18,140.90 L696.21,140.61 L697.24,140.32 L698.27,140.02 L699.31,139.73 L700.34,139.44 L701.37,139.14 L702.40,138.84 L703.43,138.55 L704.46,138.25 L705.50,137.95 L706.53,137.65 L707.56,137.34 L708.59,137.04 L709.62,136.74 L710.65,136.43 L711.68,136.13 L712.72,135.82 L713.75,135.51 L714.78,135.20 L715.81,134.89 L716.84,134.58 L717.87,134.27 L718.91,133.95 L719.94,133.64 L720.97,133.32 L722.00,133.00" fill="none" stroke="#0000ff" stroke-width="3.9" stroke-linecap="round" stroke-dasharray="17.4 13.1" stroke-dashoffset="-2"/>
<path d="M567.30,168.30 L568.30,168.20 L569.33,168.10 L570.36,168.00 L571.39,167.89 L572.43,167.78" fill="none" stroke="#0000ff" stroke-width="3.9" stroke-linecap="butt"/>
</g>
<clipPath id="c5"><rect x="568.0" y="233.7" width="152.30000000000004" height="255.3"/></clipPath>
<g clip-path="url(#c5)">
<path d="M568.30,488.30 L569.11,488.30 L569.93,488.30 L570.74,488.30 L571.56,488.30 L572.37,488.30 L573.18,488.30 L574.00,488.30 L574.81,488.29 L575.63,488.29 L576.44,488.29 L577.25,488.29 L578.07,488.28 L578.88,488.28 L579.70,488.28 L580.51,488.27 L581.32,488.27 L582.14,488.26 L582.95,488.26 L583.76,488.25 L584.58,488.24 L585.39,488.24 L586.21,488.23 L587.02,488.22 L587.83,488.22 L588.65,488.21 L589.46,488.20 L590.28,488.19 L591.09,488.18 L591.90,488.17 L592.72,488.16 L593.53,488.15 L594.35,488.14 L595.16,488.12 L595.97,488.11 L596.79,488.10 L597.60,488.09 L598.42,488.07 L599.23,488.06 L600.04,488.04 L600.86,488.03 L601.67,488.01 L602.49,487.99 L603.30,487.98 L604.11,487.96 L604.93,487.94 L605.74,487.92 L606.55,487.90 L607.37,487.88 L608.18,487.86 L609.00,487.84 L609.81,487.82 L610.62,487.80 L611.44,487.78 L612.25,487.75 L613.07,487.73 L613.88,487.71 L614.69,487.68 L615.51,487.66 L616.32,487.63 L617.14,487.60 L617.95,487.58 L618.76,487.55 L619.58,487.52 L620.39,487.49 L621.21,487.46 L622.02,487.43 L622.83,487.40 L623.65,487.37 L624.46,487.34 L625.28,487.31 L626.09,487.28 L626.90,487.24 L627.72,487.21 L628.53,487.17 L629.34,487.14 L630.16,487.10 L630.97,487.07 L631.79,487.03 L632.60,486.99 L633.41,486.95 L634.23,486.91 L635.04,486.87 L635.86,486.83 L636.67,486.79 L637.48,486.75 L638.30,486.71 L639.11,486.66 L639.93,486.62 L640.74,486.58 L641.55,486.53 L642.37,486.49 L643.18,486.44 L644.00,486.39 L644.81,486.35 L645.62,486.30 L646.44,486.25 L647.25,486.20 L648.07,486.15 L648.88,486.10 L649.69,486.05 L650.51,486.00 L651.32,485.94 L652.13,485.89 L652.95,485.84 L653.76,485.78 L654.58,485.72 L655.39,485.67 L656.20,485.61 L657.02,485.55 L657.83,485.50 L658.65,485.44 L659.46,485.38 L660.27,485.32 L661.09,485.26 L661.90,485.19 L662.72,485.13 L663.53,485.07 L664.34,485.00 L665.16,484.94 L665.97,484.87 L666.79,484.81 L667.60,484.74 L668.41,484.67 L669.23,484.61 L670.04,484.54 L670.86,484.47 L671.67,484.40 L672.48,484.33 L673.30,484.25 L674.11,484.18 L674.92,484.11 L675.74,484.03 L676.55,483.96 L677.37,483.88 L678.18,483.81 L678.99,483.73 L679.81,483.65 L680.62,483.58 L681.44,483.50 L682.25,483.42 L683.06,483.34 L683.88,483.25 L684.69,483.17 L685.51,483.09 L686.32,483.01 L687.13,482.92 L687.95,482.84 L688.76,482.75 L689.58,482.66 L690.39,482.58 L691.20,482.49 L692.02,482.40 L692.83,482.31 L693.65,482.22 L694.46,482.13 L695.27,482.04 L696.09,481.94 L696.90,481.85 L697.71,481.76 L698.53,481.66 L699.34,481.57 L700.16,481.47 L700.97,481.37 L701.78,481.27 L702.60,481.17 L703.41,481.07 L704.23,480.97 L705.04,480.87 L705.85,480.77 L706.67,480.67 L707.48,480.56 L708.30,480.46 L709.11,480.35 L709.92,480.25 L710.74,480.14 L711.55,480.03 L712.37,479.93 L713.18,479.82 L713.99,479.71 L714.81,479.60 L715.62,479.48 L716.44,479.37 L717.25,479.26 L718.06,479.14 L718.88,479.03 L719.69,478.91 L720.50,478.80 L721.32,478.68 L722.13,478.56 L722.95,478.44 L723.76,478.32 L724.57,478.20 L725.39,478.08 L726.20,477.96 L727.02,477.84 L727.83,477.71 L728.64,477.59 L729.46,477.46 L730.27,477.34" fill="none" stroke="#000" stroke-width="4.3" stroke-linecap="butt"/>
<path d="M568.30,488.30 L569.11,488.30 L569.93,488.30 L570.74,488.30 L571.56,488.30 L572.37,488.30 L573.18,488.30 L574.00,488.30 L574.81,488.29 L575.63,488.29 L576.44,488.29 L577.25,488.29 L578.07,488.28 L578.88,488.28 L579.70,488.28 L580.51,488.27 L581.32,488.27 L582.14,488.27 L582.95,488.26 L583.76,488.26 L584.58,488.25 L585.39,488.25 L586.21,488.24 L587.02,488.23 L587.83,488.23 L588.65,488.22 L589.46,488.21 L590.28,488.20 L591.09,488.19 L591.90,488.19 L592.72,488.18 L593.53,488.17 L594.35,488.16 L595.16,488.15 L595.97,488.14 L596.79,488.12 L597.60,488.11 L598.42,488.10 L599.23,488.09 L600.04,488.07 L600.86,488.06 L601.67,488.05 L602.49,488.03 L603.30,488.02 L604.11,488.00 L604.93,487.99 L605.74,487.97 L606.55,487.95 L607.37,487.94 L608.18,487.92 L609.00,487.90 L609.81,487.88 L610.62,487.86 L611.44,487.84 L612.25,487.82 L613.07,487.80 L613.88,487.78 L614.69,487.76 L615.51,487.74 L616.32,487.71 L617.14,487.69 L617.95,487.67 L618.76,487.64 L619.58,487.62 L620.39,487.59 L621.21,487.57 L622.02,487.54 L622.83,487.52 L623.65,487.49 L624.46,487.46 L625.28,487.43 L626.09,487.40 L626.90,487.37 L627.72,487.34 L628.53,487.31 L629.34,487.28 L630.16,487.25 L630.97,487.22 L631.79,487.19 L632.60,487.15 L633.41,487.12 L634.23,487.09 L635.04,487.05 L635.86,487.02 L636.67,486.98 L637.48,486.94 L638.30,486.91 L639.11,486.87 L639.93,486.83 L640.74,486.79 L641.55,486.75 L642.37,486.71 L643.18,486.67 L644.00,486.63 L644.81,486.59 L645.62,486.55 L646.44,486.51 L647.25,486.46 L648.07,486.42 L648.88,486.37 L649.69,486.33 L650.51,486.28 L651.32,486.24 L652.13,486.19 L652.95,486.14 L653.76,486.10 L654.58,486.05 L655.39,486.00 L656.20,485.95 L657.02,485.90 L657.83,485.85 L658.65,485.79 L659.46,485.74 L660.27,485.69 L661.09,485.64 L661.90,485.58 L662.72,485.53 L663.53,485.47 L664.34,485.42 L665.16,485.36 L665.97,485.30 L666.79,485.24 L667.60,485.19 L668.41,485.13 L669.23,485.07 L670.04,485.01 L670.86,484.95 L671.67,484.89 L672.48,484.82 L673.30,484.76 L674.11,484.70 L674.92,484.63 L675.74,484.57 L676.55,484.50 L677.37,484.44 L678.18,484.37 L678.99,484.30 L679.81,484.23 L680.62,484.17 L681.44,484.10 L682.25,484.03 L683.06,483.96 L683.88,483.89 L684.69,483.81 L685.51,483.74 L686.32,483.67 L687.13,483.59 L687.95,483.52 L688.76,483.44 L689.58,483.37 L690.39,483.29 L691.20,483.22 L692.02,483.14 L692.83,483.06 L693.65,482.98 L694.46,482.90 L695.27,482.82 L696.09,482.74 L696.90,482.66 L697.71,482.57 L698.53,482.49 L699.34,482.41 L700.16,482.32 L700.97,482.24 L701.78,482.15 L702.60,482.06 L703.41,481.98 L704.23,481.89 L705.04,481.80 L705.85,481.71 L706.67,481.62 L707.48,481.53 L708.30,481.44 L709.11,481.35 L709.92,481.25 L710.74,481.16 L711.55,481.07 L712.37,480.97 L713.18,480.88 L713.99,480.78 L714.81,480.68 L715.62,480.59 L716.44,480.49 L717.25,480.39 L718.06,480.29 L718.88,480.19 L719.69,480.09 L720.50,479.98 L721.32,479.88 L722.13,479.78 L722.95,479.67 L723.76,479.57 L724.57,479.46 L725.39,479.36 L726.20,479.25 L727.02,479.14 L727.83,479.04 L728.64,478.93 L729.46,478.82 L730.27,478.71" fill="none" stroke="#ff0000" stroke-width="4.4" stroke-linecap="round" stroke-dasharray="0 8.18" stroke-dashoffset="-0.8"/>
<path d="M568.30,488.30 L569.11,488.30 L569.93,488.30 L570.74,488.30 L571.56,488.30 L572.37,488.30 L573.18,488.30 L574.00,488.30 L574.81,488.29 L575.63,488.29 L576.44,488.29 L577.25,488.29 L578.07,488.29 L578.88,488.28 L579.70,488.28 L580.51,488.28 L581.32,488.27 L582.14,488.27 L582.95,488.27 L583.76,488.26 L584.58,488.26 L585.39,488.25 L586.21,488.25 L587.02,488.24 L587.83,488.24 L588.65,488.23 L589.46,488.22 L590.28,488.22 L591.09,488.21 L591.90,488.20 L592.72,488.19 L593.53,488.18 L594.35,488.18 L595.16,488.17 L595.97,488.16 L596.79,488.15 L597.60,488.14 L598.42,488.13 L599.23,488.11 L600.04,488.10 L600.86,488.09 L601.67,488.08 L602.49,488.07 L603.30,488.05 L604.11,488.04 L604.93,488.03 L605.74,488.01 L606.55,488.00 L607.37,487.98 L608.18,487.97 L609.00,487.95 L609.81,487.94 L610.62,487.92 L611.44,487.90 L612.25,487.88 L613.07,487.87 L613.88,487.85 L614.69,487.83 L615.51,487.81 L616.32,487.79 L617.14,487.77 L617.95,487.75 L618.76,487.73 L619.58,487.71 L620.39,487.68 L621.21,487.66 L622.02,487.64 L622.83,487.62 L623.65,487.59 L624.46,487.57 L625.28,487.54 L626.09,487.52 L626.90,487.49 L627.72,487.47 L628.53,487.44 L629.34,487.41 L630.16,487.39 L630.97,487.36 L631.79,487.33 L632.60,487.30 L633.41,487.27 L634.23,487.24 L635.04,487.21 L635.86,487.18 L636.67,487.15 L637.48,487.12 L638.30,487.09 L639.11,487.05 L639.93,487.02 L640.74,486.99 L641.55,486.95 L642.37,486.92 L643.18,486.88 L644.00,486.85 L644.81,486.81 L645.62,486.77 L646.44,486.74 L647.25,486.70 L648.07,486.66 L648.88,486.62 L649.69,486.58 L650.51,486.54 L651.32,486.50 L652.13,486.46 L652.95,486.42 L653.76,486.38 L654.58,486.34 L655.39,486.29 L656.20,486.25 L657.02,486.21 L657.83,486.16 L658.65,486.12 L659.46,486.07 L660.27,486.03 L661.09,485.98 L661.90,485.93 L662.72,485.88 L663.53,485.84 L664.34,485.79 L665.16,485.74 L665.97,485.69 L666.79,485.64 L667.60,485.59 L668.41,485.54 L669.23,485.48 L670.04,485.43 L670.86,485.38 L671.67,485.32 L672.48,485.27 L673.30,485.22 L674.11,485.16 L674.92,485.10 L675.74,485.05 L676.55,484.99 L677.37,484.93 L678.18,484.88 L678.99,484.82 L679.81,484.76 L680.62,484.70 L681.44,484.64 L682.25,484.58 L683.06,484.51 L683.88,484.45 L684.69,484.39 L685.51,484.33 L686.32,484.26 L687.13,484.20 L687.95,484.13 L688.76,484.07 L689.58,484.00 L690.39,483.94 L691.20,483.87 L692.02,483.80 L692.83,483.73 L693.65,483.66 L694.46,483.59 L695.27,483.52 L696.09,483.45 L696.90,483.38 L697.71,483.31 L698.53,483.24 L699.34,483.16 L700.16,483.09 L700.97,483.02 L701.78,482.94 L702.60,482.87 L703.41,482.79 L704.23,482.71 L705.04,482.64 L705.85,482.56 L706.67,482.48 L707.48,482.40 L708.30,482.32 L709.11,482.24 L709.92,482.16 L710.74,482.08 L711.55,482.00 L712.37,481.91 L713.18,481.83 L713.99,481.75 L714.81,481.66 L715.62,481.58 L716.44,481.49 L717.25,481.41 L718.06,481.32 L718.88,481.23 L719.69,481.14 L720.50,481.05 L721.32,480.96 L722.13,480.87 L722.95,480.78 L723.76,480.69 L724.57,480.60 L725.39,480.51 L726.20,480.41 L727.02,480.32 L727.83,480.23 L728.64,480.13 L729.46,480.04 L730.27,479.94" fill="none" stroke="#0000ff" stroke-width="3.9" stroke-linecap="round" stroke-dasharray="17.4 13.1" stroke-dashoffset="-2"/>
<path d="M567.30,488.30 L568.30,488.30 L569.11,488.30 L569.93,488.30 L570.74,488.30 L571.56,488.30 L572.37,488.30" fill="none" stroke="#0000ff" stroke-width="3.9" stroke-linecap="butt"/>
</g>
<clipPath id="c6"><rect x="568.0" y="515.4" width="152.30000000000004" height="255.2"/></clipPath>
<g clip-path="url(#c6)">
<path d="M568.30,769.90 L569.11,769.90 L569.93,769.90 L570.74,769.90 L571.56,769.90 L572.37,769.90 L573.18,769.90 L574.00,769.90 L574.81,769.89 L575.63,769.89 L576.44,769.89 L577.25,769.89 L578.07,769.88 L578.88,769.88 L579.70,769.88 L580.51,769.87 L581.32,769.87 L582.14,769.86 L582.95,769.86 L583.76,769.85 L584.58,769.85 L585.39,769.84 L586.21,769.84 L587.02,769.83 L587.83,769.82 L588.65,769.81 L589.46,769.81 L590.28,769.80 L591.09,769.79 L591.90,769.78 L592.72,769.77 L593.53,769.76 L594.35,769.75 L595.16,769.74 L595.97,769.72 L596.79,769.71 L597.60,769.70 L598.42,769.69 L599.23,769.67 L600.04,769.66 L600.86,769.65 L601.67,769.63 L602.49,769.62 L603.30,769.60 L604.11,769.58 L604.93,769.57 L605.74,769.55 L606.55,769.53 L607.37,769.51 L608.18,769.49 L609.00,769.47 L609.81,769.45 L610.62,769.43 L611.44,769.41 L612.25,769.39 L613.07,769.37 L613.88,769.35 L614.69,769.33 L615.51,769.30 L616.32,769.28 L617.14,769.25 L617.95,769.23 L618.76,769.20 L619.58,769.18 L620.39,769.15 L621.21,769.12 L622.02,769.09 L622.83,769.07 L623.65,769.04 L624.46,769.01 L625.28,768.98 L626.09,768.95 L626.90,768.92 L627.72,768.88 L628.53,768.85 L629.34,768.82 L630.16,768.79 L630.97,768.75 L631.79,768.72 L632.60,768.68 L633.41,768.65 L634.23,768.61 L635.04,768.57 L635.86,768.54 L636.67,768.50 L637.48,768.46 L638.30,768.42 L639.11,768.38 L639.93,768.34 L640.74,768.30 L641.55,768.26 L642.37,768.21 L643.18,768.17 L644.00,768.13 L644.81,768.08 L645.62,768.04 L646.44,767.99 L647.25,767.95 L648.07,767.90 L648.88,767.85 L649.69,767.81 L650.51,767.76 L651.32,767.71 L652.13,767.66 L652.95,767.61 L653.76,767.56 L654.58,767.50 L655.39,767.45 L656.20,767.40 L657.02,767.35 L657.83,767.29 L658.65,767.24 L659.46,767.18 L660.27,767.13 L661.09,767.07 L661.90,767.01 L662.72,766.95 L663.53,766.89 L664.34,766.83 L665.16,766.77 L665.97,766.71 L666.79,766.65 L667.60,766.59 L668.41,766.53 L669.23,766.46 L670.04,766.40 L670.86,766.34 L671.67,766.27 L672.48,766.20 L673.30,766.14 L674.11,766.07 L674.92,766.00 L675.74,765.93 L676.55,765.86 L677.37,765.79 L678.18,765.72 L678.99,765.65 L679.81,765.58 L680.62,765.51 L681.44,765.43 L682.25,765.36 L683.06,765.28 L683.88,765.21 L684.69,765.13 L685.51,765.05 L686.32,764.98 L687.13,764.90 L687.95,764.82 L688.76,764.74 L689.58,764.66 L690.39,764.58 L691.20,764.50 L692.02,764.41 L692.83,764.33 L693.65,764.25 L694.46,764.16 L695.27,764.07 L696.09,763.99 L696.90,763.90 L697.71,763.81 L698.53,763.73 L699.34,763.64 L700.16,763.55 L700.97,763.46 L701.78,763.36 L702.60,763.27 L703.41,763.18 L704.23,763.09 L705.04,762.99 L705.85,762.90 L706.67,762.80 L707.48,762.71 L708.30,762.61 L709.11,762.51 L709.92,762.41 L710.74,762.31 L711.55,762.21 L712.37,762.11 L713.18,762.01 L713.99,761.91 L714.81,761.80 L715.62,761.70 L716.44,761.60 L717.25,761.49 L718.06,761.38 L718.88,761.28 L719.69,761.17 L720.50,761.06 L721.32,760.95 L722.13,760.84 L722.95,760.73 L723.76,760.62 L724.57,760.51 L725.39,760.40 L726.20,760.28 L727.02,760.17 L727.83,760.05 L728.64,759.94 L729.46,759.82 L730.27,759.70" fill="none" stroke="#000" stroke-width="4.3" stroke-linecap="butt"/>
<path d="M568.30,769.90 L569.11,769.90 L569.93,769.90 L570.74,769.90 L571.56,769.90 L572.37,769.90 L573.18,769.90 L574.00,769.90 L574.81,769.89 L575.63,769.89 L576.44,769.89 L577.25,769.89 L578.07,769.89 L578.88,769.88 L579.70,769.88 L580.51,769.88 L581.32,769.87 L582.14,769.87 L582.95,769.86 L583.76,769.86 L584.58,769.85 L585.39,769.85 L586.21,769.84 L587.02,769.84 L587.83,769.83 L588.65,769.82 L589.46,769.82 L590.28,769.81 L591.09,769.80 L591.90,769.79 L592.72,769.79 L593.53,769.78 L594.35,769.77 L595.16,769.76 L595.97,769.75 L596.79,769.74 L597.60,769.73 L598.42,769.71 L599.23,769.70 L600.04,769.69 L600.86,769.68 L601.67,769.66 L602.49,769.65 L603.30,769.64 L604.11,769.62 L604.93,769.61 L605.74,769.59 L606.55,769.58 L607.37,769.56 L608.18,769.54 L609.00,769.53 L609.81,769.51 L610.62,769.49 L611.44,769.47 L612.25,769.46 L613.07,769.44 L613.88,769.42 L614.69,769.40 L615.51,769.38 L616.32,769.36 L617.14,769.33 L617.95,769.31 L618.76,769.29 L619.58,769.27 L620.39,769.24 L621.21,769.22 L622.02,769.20 L622.83,769.17 L623.65,769.15 L624.46,769.12 L625.28,769.09 L626.09,769.07 L626.90,769.04 L627.72,769.01 L628.53,768.98 L629.34,768.95 L630.16,768.93 L630.97,768.90 L631.79,768.86 L632.60,768.83 L633.41,768.80 L634.23,768.77 L635.04,768.74 L635.86,768.71 L636.67,768.67 L637.48,768.64 L638.30,768.60 L639.11,768.57 L639.93,768.53 L640.74,768.50 L641.55,768.46 L642.37,768.42 L643.18,768.39 L644.00,768.35 L644.81,768.31 L645.62,768.27 L646.44,768.23 L647.25,768.19 L648.07,768.15 L648.88,768.11 L649.69,768.07 L650.51,768.02 L651.32,767.98 L652.13,767.94 L652.95,767.89 L653.76,767.85 L654.58,767.80 L655.39,767.76 L656.20,767.71 L657.02,767.67 L657.83,767.62 L658.65,767.57 L659.46,767.52 L660.27,767.47 L661.09,767.42 L661.90,767.37 L662.72,767.32 L663.53,767.27 L664.34,767.22 L665.16,767.17 L665.97,767.11 L666.79,767.06 L667.60,767.00 L668.41,766.95 L669.23,766.89 L670.04,766.84 L670.86,766.78 L671.67,766.72 L672.48,766.67 L673.30,766.61 L674.11,766.55 L674.92,766.49 L675.74,766.43 L676.55,766.37 L677.37,766.31 L678.18,766.24 L678.99,766.18 L679.81,766.12 L680.62,766.06 L681.44,765.99 L682.25,765.93 L683.06,765.86 L683.88,765.79 L684.69,765.73 L685.51,765.66 L686.32,765.59 L687.13,765.52 L687.95,765.45 L688.76,765.38 L689.58,765.31 L690.39,765.24 L691.20,765.17 L692.02,765.10 L692.83,765.03 L693.65,764.95 L694.46,764.88 L695.27,764.80 L696.09,764.73 L696.90,764.65 L697.71,764.57 L698.53,764.50 L699.34,764.42 L700.16,764.34 L700.97,764.26 L701.78,764.18 L702.60,764.10 L703.41,764.02 L704.23,763.94 L705.04,763.86 L705.85,763.77 L706.67,763.69 L707.48,763.60 L708.30,763.52 L709.11,763.43 L709.92,763.35 L710.74,763.26 L711.55,763.17 L712.37,763.09 L713.18,763.00 L713.99,762.91 L714.81,762.82 L715.62,762.73 L716.44,762.63 L717.25,762.54 L718.06,762.45 L718.88,762.36 L719.69,762.26 L720.50,762.17 L721.32,762.07 L722.13,761.98 L722.95,761.88 L723.76,761.78 L724.57,761.68 L725.39,761.58 L726.20,761.48 L727.02,761.38 L727.83,761.28 L728.64,761.18 L729.46,761.08 L730.27,760.98" fill="none" stroke="#ff0000" stroke-width="4.4" stroke-linecap="round" stroke-dasharray="0 8.18" stroke-dashoffset="-0.8"/>
<path d="M568.30,769.90 L569.11,769.90 L569.93,769.90 L570.74,769.90 L571.56,769.90 L572.37,769.90 L573.18,769.90 L574.00,769.90 L574.81,769.90 L575.63,769.89 L576.44,769.89 L577.25,769.89 L578.07,769.89 L578.88,769.89 L579.70,769.88 L580.51,769.88 L581.32,769.88 L582.14,769.87 L582.95,769.87 L583.76,769.86 L584.58,769.86 L585.39,769.86 L586.21,769.85 L587.02,769.85 L587.83,769.84 L588.65,769.83 L589.46,769.83 L590.28,769.82 L591.09,769.81 L591.90,769.81 L592.72,769.80 L593.53,769.79 L594.35,769.78 L595.16,769.78 L595.97,769.77 L596.79,769.76 L597.60,769.75 L598.42,769.74 L599.23,769.73 L600.04,769.72 L600.86,769.71 L601.67,769.69 L602.49,769.68 L603.30,769.67 L604.11,769.66 L604.93,769.65 L605.74,769.63 L606.55,769.62 L607.37,769.60 L608.18,769.59 L609.00,769.58 L609.81,769.56 L610.62,769.55 L611.44,769.53 L612.25,769.51 L613.07,769.50 L613.88,769.48 L614.69,769.46 L615.51,769.44 L616.32,769.43 L617.14,769.41 L617.95,769.39 L618.76,769.37 L619.58,769.35 L620.39,769.33 L621.21,769.31 L622.02,769.29 L622.83,769.26 L623.65,769.24 L624.46,769.22 L625.28,769.20 L626.09,769.17 L626.90,769.15 L627.72,769.13 L628.53,769.10 L629.34,769.08 L630.16,769.05 L630.97,769.02 L631.79,769.00 L632.60,768.97 L633.41,768.94 L634.23,768.92 L635.04,768.89 L635.86,768.86 L636.67,768.83 L637.48,768.80 L638.30,768.77 L639.11,768.74 L639.93,768.71 L640.74,768.68 L641.55,768.65 L642.37,768.61 L643.18,768.58 L644.00,768.55 L644.81,768.51 L645.62,768.48 L646.44,768.45 L647.25,768.41 L648.07,768.38 L648.88,768.34 L649.69,768.30 L650.51,768.27 L651.32,768.23 L652.13,768.19 L652.95,768.15 L653.76,768.11 L654.58,768.07 L655.39,768.03 L656.20,767.99 L657.02,767.95 L657.83,767.91 L658.65,767.87 L659.46,767.83 L660.27,767.78 L661.09,767.74 L661.90,767.70 L662.72,767.65 L663.53,767.61 L664.34,767.56 L665.16,767.52 L665.97,767.47 L666.79,767.42 L667.60,767.38 L668.41,767.33 L669.23,767.28 L670.04,767.23 L670.86,767.18 L671.67,767.13 L672.48,767.08 L673.30,767.03 L674.11,766.98 L674.92,766.93 L675.74,766.88 L676.55,766.82 L677.37,766.77 L678.18,766.71 L678.99,766.66 L679.81,766.61 L680.62,766.55 L681.44,766.49 L682.25,766.44 L683.06,766.38 L683.88,766.32 L684.69,766.26 L685.51,766.21 L686.32,766.15 L687.13,766.09 L687.95,766.03 L688.76,765.96 L689.58,765.90 L690.39,765.84 L691.20,765.78 L692.02,765.72 L692.83,765.65 L693.65,765.59 L694.46,765.52 L695.27,765.46 L696.09,765.39 L696.90,765.33 L697.71,765.26 L698.53,765.19 L699.34,765.12 L700.16,765.06 L700.97,764.99 L701.78,764.92 L702.60,764.85 L703.41,764.78 L704.23,764.70 L705.04,764.63 L705.85,764.56 L706.67,764.49 L707.48,764.41 L708.30,764.34 L709.11,764.27 L709.92,764.19 L710.74,764.11 L711.55,764.04 L712.37,763.96 L713.18,763.88 L713.99,763.81 L714.81,763.73 L715.62,763.65 L716.44,763.57 L717.25,763.49 L718.06,763.41 L718.88,763.33 L719.69,763.24 L720.50,763.16 L721.32,763.08 L722.13,762.99 L722.95,762.91 L723.76,762.82 L724.57,762.74 L725.39,762.65 L726.20,762.57 L727.02,762.48 L727.83,762.39 L728.64,762.30 L729.46,762.21 L730.27,762.12" fill="none" stroke="#0000ff" stroke-width="3.9" stroke-linecap="round" stroke-dasharray="17.4 13.1" stroke-dashoffset="-2"/>
<path d="M567.30,769.90 L568.30,769.90 L569.11,769.90 L569.93,769.90 L570.74,769.90 L571.56,769.90 L572.37,769.90" fill="none" stroke="#0000ff" stroke-width="3.9" stroke-linecap="butt"/>
</g>
<text transform="translate(83.20,212.25) scale(1.11,1)" font-family="Liberation Sans" font-size="16.8" font-weight="normal" text-anchor="end" fill="#000" stroke="#000" stroke-width="0.12">0.0</text>
<text transform="translate(83.20,140.25) scale(1.11,1)" font-family="Liberation Sans" font-size="16.8" font-weight="normal" text-anchor="end" fill="#000" stroke="#000" stroke-width="0.12">0.1</text>
<text transform="translate(83.20,68.25) scale(1.11,1)" font-family="Liberation Sans" font-size="16.8" font-weight="normal" text-anchor="end" fill="#000" stroke="#000" stroke-width="0.12">0.2</text>
<text transform="translate(562.00,212.25) scale(1.11,1)" font-family="Liberation Sans" font-size="16.8" font-weight="normal" text-anchor="end" fill="#000" stroke="#000" stroke-width="0.12">0</text>
<text transform="translate(562.00,140.25) scale(1.11,1)" font-family="Liberation Sans" font-size="16.8" font-weight="normal" text-anchor="end" fill="#000" stroke="#000" stroke-width="0.12">1</text>
<text transform="translate(562.00,68.25) scale(1.11,1)" font-family="Liberation Sans" font-size="16.8" font-weight="normal" text-anchor="end" fill="#000" stroke="#000" stroke-width="0.12">2</text>
<text transform="translate(83.20,493.55) scale(1.11,1)" font-family="Liberation Sans" font-size="16.8" font-weight="normal" text-anchor="end" fill="#000" stroke="#000" stroke-width="0.12">0.00</text>
<text transform="translate(83.20,393.05) scale(1.11,1)" font-family="Liberation Sans" font-size="16.8" font-weight="normal" text-anchor="end" fill="#000" stroke="#000" stroke-width="0.12">0.02</text>
<text transform="translate(83.20,292.55) scale(1.11,1)" font-family="Liberation Sans" font-size="16.8" font-weight="normal" text-anchor="end" fill="#000" stroke="#000" stroke-width="0.12">0.04</text>
<text transform="translate(562.00,493.55) scale(1.11,1)" font-family="Liberation Sans" font-size="16.8" font-weight="normal" text-anchor="end" fill="#000" stroke="#000" stroke-width="0.12">0.00</text>
<text transform="translate(562.00,367.80) scale(1.11,1)" font-family="Liberation Sans" font-size="16.8" font-weight="normal" text-anchor="end" fill="#000" stroke="#000" stroke-width="0.12">0.04</text>
<text transform="translate(562.00,242.05) scale(1.11,1)" font-family="Liberation Sans" font-size="16.8" font-weight="normal" text-anchor="end" fill="#000" stroke="#000" stroke-width="0.12">0.08</text>
<text transform="translate(83.20,775.15) scale(1.11,1)" font-family="Liberation Sans" font-size="16.8" font-weight="normal" text-anchor="end" fill="#000" stroke="#000" stroke-width="0.12">0.00</text>
<text transform="translate(83.20,674.65) scale(1.11,1)" font-family="Liberation Sans" font-size="16.8" font-weight="normal" text-anchor="end" fill="#000" stroke="#000" stroke-width="0.12">0.02</text>
<text transform="translate(83.20,574.15) scale(1.11,1)" font-family="Liberation Sans" font-size="16.8" font-weight="normal" text-anchor="end" fill="#000" stroke="#000" stroke-width="0.12">0.04</text>
<text transform="translate(562.00,775.15) scale(1.11,1)" font-family="Liberation Sans" font-size="16.8" font-weight="normal" text-anchor="end" fill="#000" stroke="#000" stroke-width="0.12">0.00</text>
<text transform="translate(562.00,649.40) scale(1.11,1)" font-family="Liberation Sans" font-size="16.8" font-weight="normal" text-anchor="end" fill="#000" stroke="#000" stroke-width="0.12">0.04</text>
<text transform="translate(562.00,523.65) scale(1.11,1)" font-family="Liberation Sans" font-size="16.8" font-weight="normal" text-anchor="end" fill="#000" stroke="#000" stroke-width="0.12">0.08</text>
<text transform="translate(114.62,789.20) scale(1.11,1)" font-family="Liberation Sans" font-size="16.8" font-weight="normal" text-anchor="middle" fill="#000" stroke="#000" stroke-width="0.12">0.3</text>
<text transform="translate(239.21,789.20) scale(1.11,1)" font-family="Liberation Sans" font-size="16.8" font-weight="normal" text-anchor="middle" fill="#000" stroke="#000" stroke-width="0.12">0.4</text>
<text transform="translate(363.81,789.20) scale(1.11,1)" font-family="Liberation Sans" font-size="16.8" font-weight="normal" text-anchor="middle" fill="#000" stroke="#000" stroke-width="0.12">0.5</text>
<text transform="translate(488.40,789.20) scale(1.11,1)" font-family="Liberation Sans" font-size="16.8" font-weight="normal" text-anchor="middle" fill="#000" stroke="#000" stroke-width="0.12">0.6</text>
<text transform="translate(593.22,789.20) scale(1.11,1)" font-family="Liberation Sans" font-size="16.8" font-weight="normal" text-anchor="middle" fill="#000" stroke="#000" stroke-width="0.12">0.3</text>
<text transform="translate(717.81,789.20) scale(1.11,1)" font-family="Liberation Sans" font-size="16.8" font-weight="normal" text-anchor="middle" fill="#000" stroke="#000" stroke-width="0.12">0.4</text>
<text transform="translate(224.7,817.9) scale(1.086,1)" font-family="Liberation Sans" font-size="21.2" fill="#000" stroke="#000" stroke-width="0.2">m(<tspan font-family="Liberation Serif" font-size="23">π</tspan><tspan font-size="14.8" dy="-8.0" stroke-width="0">+</tspan><tspan font-family="Liberation Serif" font-size="23" dy="8.0">π</tspan><tspan font-size="14.8" dy="-8.0" stroke-width="0">−</tspan><tspan dy="8.0">)</tspan><tspan dx="-2.95"> GeV</tspan></text>
<g transform="translate(32.2,150) rotate(-90)" fill="#000"><text transform="scale(1,1.3)" x="0" y="0" font-family="Liberation Sans" font-weight="bold" font-size="20.8">C</text><text x="15.2" y="0" font-family="Liberation Serif" font-size="23">(</text><text x="22.6" y="0" font-family="Liberation Serif" font-size="23">α</text><text x="35.6" y="8.1" font-family="Liberation Serif" font-size="14.2">2</text><rect x="42.8" y="-7.1" width="10.5" height="1.9"/><text x="53.1" y="0" font-family="Liberation Serif" font-size="23">β</text><text x="64.9" y="8.1" font-family="Liberation Serif" font-size="14.2">2</text><text x="70.7" y="0" font-family="Liberation Serif" font-size="23">)</text><text x="78.4" y="8.3" font-family="Liberation Serif" font-size="16">π</text><text x="86.5" y="2.3" font-family="Liberation Serif" font-size="18">+</text></g>
<g transform="translate(34.0,431.7) rotate(-90)" fill="#000"><text transform="scale(1,1.3)" x="0" y="0" font-family="Liberation Sans" font-weight="bold" font-size="20.8">C</text><text x="15.2" y="0" font-family="Liberation Serif" font-size="23">(</text><text x="22.6" y="0" font-family="Liberation Serif" font-size="23">α</text><text x="35.1" y="8.1" font-family="Liberation Serif" font-size="14.2">1</text><rect x="42.0" y="-7.25" width="10.8" height="1.3"/><rect x="46.75" y="-12.65" width="1.3" height="12.1"/><text x="53.1" y="0" font-family="Liberation Serif" font-size="23">β</text><text x="64.4" y="8.1" font-family="Liberation Serif" font-size="14.2">1</text><text x="70.7" y="0" font-family="Liberation Serif" font-size="23">)</text><text x="78.4" y="8.3" font-family="Liberation Serif" font-size="16">π</text><text x="86.5" y="2.3" font-family="Liberation Serif" font-size="18">+</text></g>
<g transform="translate(32.2,713.8) rotate(-90)" fill="#000"><text transform="scale(1,1.3)" x="0" y="0" font-family="Liberation Sans" font-weight="bold" font-size="20.8">C</text><text x="15.2" y="0" font-family="Liberation Serif" font-size="23">(</text><text x="22.6" y="0" font-family="Liberation Serif" font-size="23">α</text><text x="35.6" y="8.1" font-family="Liberation Serif" font-size="14.2">2</text><rect x="42.0" y="-7.25" width="10.8" height="1.3"/><rect x="46.75" y="-12.65" width="1.3" height="12.1"/><text x="53.1" y="0" font-family="Liberation Serif" font-size="23">β</text><text x="64.9" y="8.1" font-family="Liberation Serif" font-size="14.2">2</text><text x="70.7" y="0" font-family="Liberation Serif" font-size="23">)</text><text x="78.4" y="8.3" font-family="Liberation Serif" font-size="16">π</text><text x="86.5" y="2.3" font-family="Liberation Serif" font-size="18">+</text></g>
<g transform="translate(514.8,150) rotate(-90)" fill="#000"><text transform="scale(1,1.3)" x="0" y="0" font-family="Liberation Sans" font-weight="bold" font-size="20.8">C</text><text x="15.2" y="0" font-family="Liberation Serif" font-size="23">(</text><text x="22.6" y="0" font-family="Liberation Serif" font-size="23">α</text><text x="35.6" y="8.1" font-family="Liberation Serif" font-size="14.2">2</text><rect x="42.8" y="-7.1" width="10.5" height="1.9"/><text x="53.1" y="0" font-family="Liberation Serif" font-size="23">β</text><text x="64.9" y="8.1" font-family="Liberation Serif" font-size="14.2">2</text><text x="70.7" y="0" font-family="Liberation Serif" font-size="23">)</text><text x="78.4" y="8.3" font-family="Liberation Serif" font-size="16">π</text><text x="87.2" y="1.4" font-family="Liberation Serif" font-size="18">0</text></g>
<g transform="translate(514.8,431.7) rotate(-90)" fill="#000"><text transform="scale(1,1.3)" x="0" y="0" font-family="Liberation Sans" font-weight="bold" font-size="20.8">C</text><text x="15.2" y="0" font-family="Liberation Serif" font-size="23">(</text><text x="22.6" y="0" font-family="Liberation Serif" font-size="23">α</text><text x="35.1" y="8.1" font-family="Liberation Serif" font-size="14.2">1</text><rect x="42.0" y="-7.25" width="10.8" height="1.3"/><rect x="46.75" y="-12.65" width="1.3" height="12.1"/><text x="53.1" y="0" font-family="Liberation Serif" font-size="23">β</text><text x="64.4" y="8.1" font-family="Liberation Serif" font-size="14.2">1</text><text x="70.7" y="0" font-family="Liberation Serif" font-size="23">)</text><text x="78.4" y="8.3" font-family="Liberation Serif" font-size="16">π</text><text x="87.2" y="1.4" font-family="Liberation Serif" font-size="18">0</text></g>
<g transform="translate(514.8,712.7) rotate(-90)" fill="#000"><text transform="scale(1,1.3)" x="0" y="0" font-family="Liberation Sans" font-weight="bold" font-size="20.8">C</text><text x="15.2" y="0" font-family="Liberation Serif" font-size="23">(</text><text x="22.6" y="0" font-family="Liberation Serif" font-size="23">α</text><text x="35.6" y="8.1" font-family="Liberation Serif" font-size="14.2">2</text><rect x="42.0" y="-7.25" width="10.8" height="1.3"/><rect x="46.75" y="-12.65" width="1.3" height="12.1"/><text x="53.1" y="0" font-family="Liberation Serif" font-size="23">β</text><text x="64.9" y="8.1" font-family="Liberation Serif" font-size="14.2">2</text><text x="70.7" y="0" font-family="Liberation Serif" font-size="23">)</text><text x="78.4" y="8.3" font-family="Liberation Serif" font-size="16">π</text><text x="87.2" y="1.4" font-family="Liberation Serif" font-size="18">0</text></g>
</svg></body></html>
